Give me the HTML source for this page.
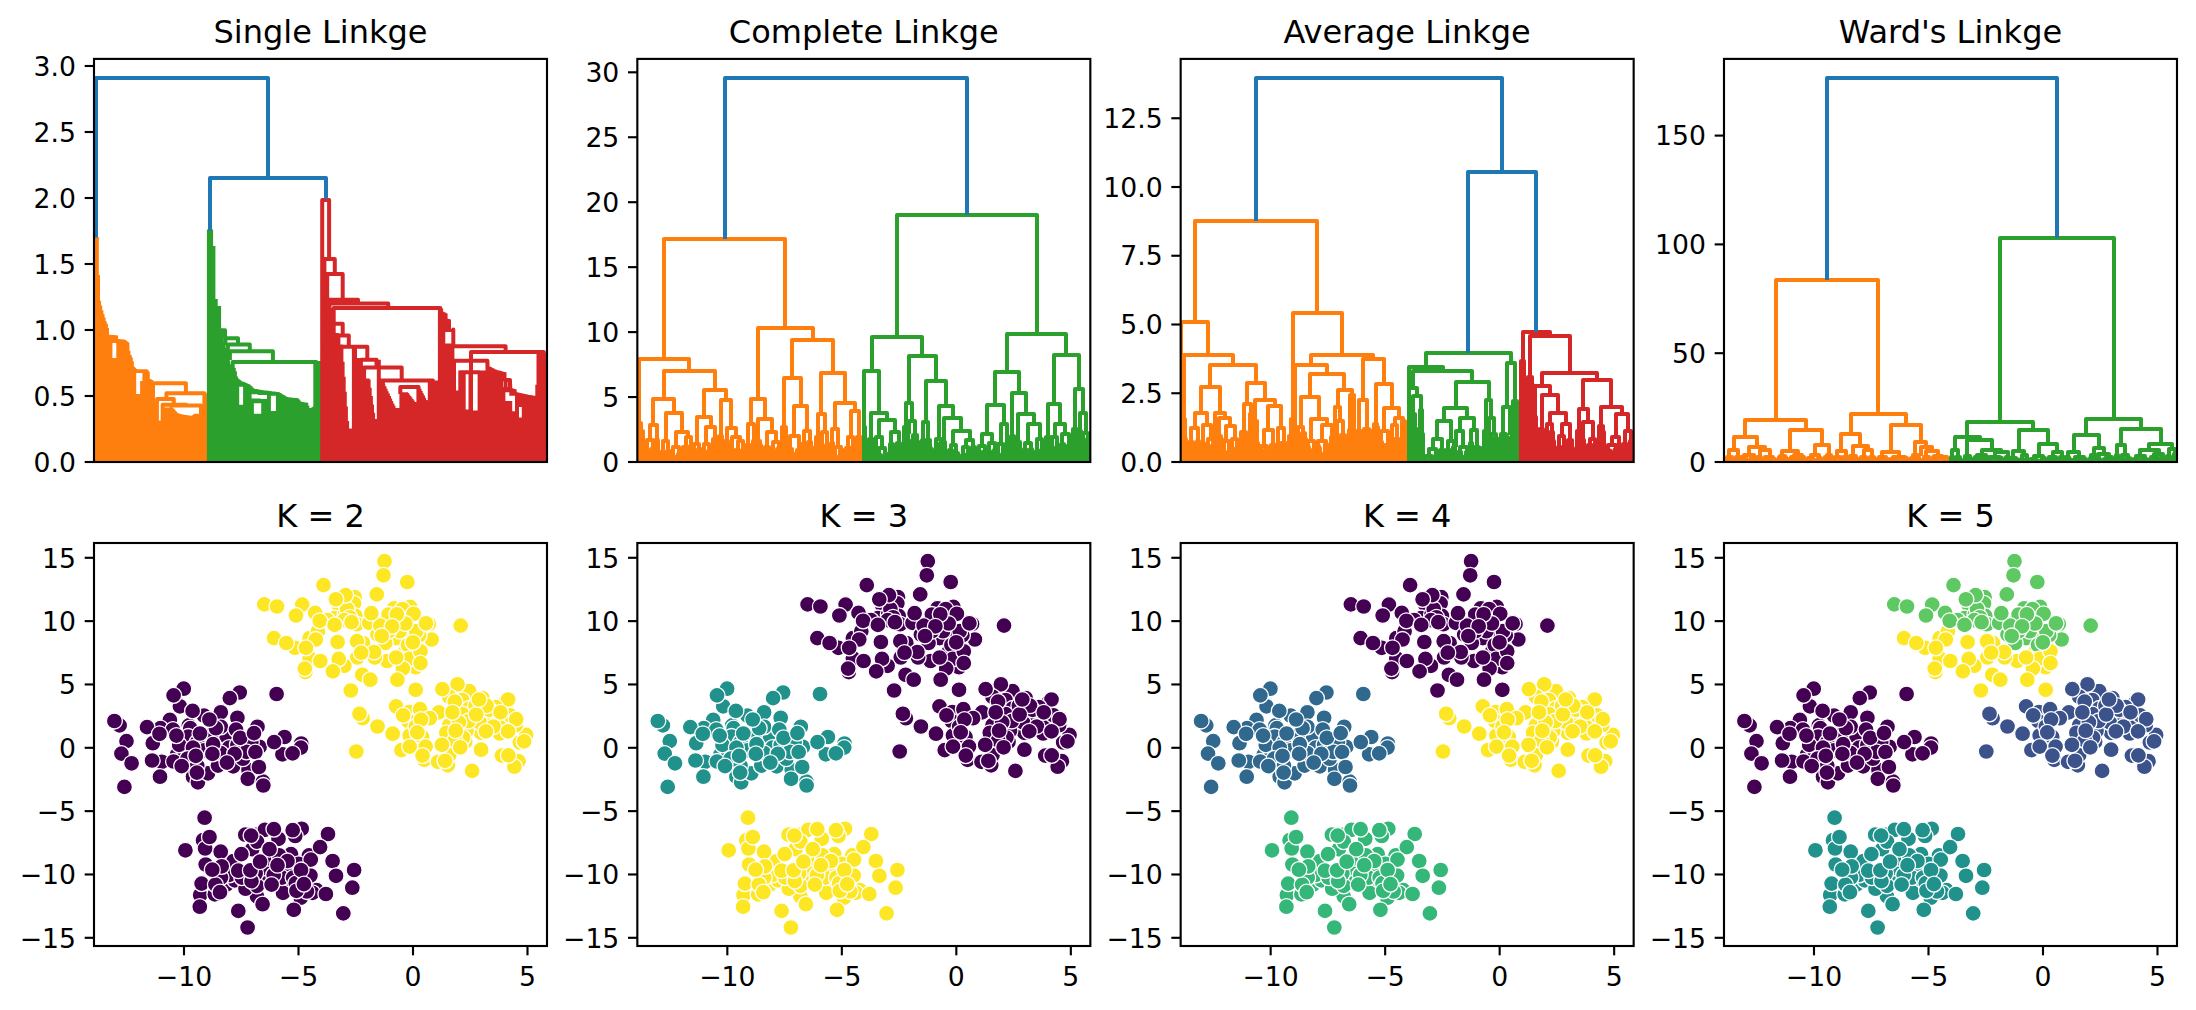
<!DOCTYPE html>
<html><head><meta charset="utf-8"><title>Hierarchical and K-means clustering</title>
<style>html,body{margin:0;padding:0;background:#fff}svg{display:block}</style></head>
<body><svg width="2196" height="1010" viewBox="0 0 2196 1010" font-family="'DejaVu Sans','Liberation Sans',sans-serif" fill="#000"><clipPath id="ct0"><rect x="94" y="58.9" width="453" height="403.1"/></clipPath>
<clipPath id="cb0"><rect x="94" y="543" width="453" height="403"/></clipPath>
<clipPath id="ct1"><rect x="637.33" y="58.9" width="453" height="403.1"/></clipPath>
<clipPath id="cb1"><rect x="637.33" y="543" width="453" height="403"/></clipPath>
<clipPath id="ct2"><rect x="1180.66" y="58.9" width="453" height="403.1"/></clipPath>
<clipPath id="cb2"><rect x="1180.66" y="543" width="453" height="403"/></clipPath>
<clipPath id="ct3"><rect x="1723.99" y="58.9" width="453" height="403.1"/></clipPath>
<clipPath id="cb3"><rect x="1723.99" y="543" width="453" height="403"/></clipPath>
<g clip-path="url(#ct0)" fill="none" stroke-width="4.0" stroke-linejoin="round" stroke-linecap="butt"><path stroke="#ff7f0e" d="M94.6 462.0V237.0M95.7 462.0V237.0M96.8 462.0V237.0M98.0 462.0V275.0M99.1 462.0V300.8M100.2 462.0V305.5M101.4 462.0V310.2M102.5 462.0V313.9M103.6 462.0V317.5M104.8 462.0V321.2M105.9 462.0V323.7M107.0 462.0V327.9M108.2 462.0V334.7M109.3 462.0V334.8M110.4 462.0V334.9M111.6 462.0V358.0M111.6 343.0V335.0M112.7 462.0V358.0M112.7 343.0V335.1M113.8 462.0V358.0M113.8 343.0V335.2M115.0 462.0V358.0M115.0 343.0V335.3M116.1 462.0V358.0M116.1 343.0V335.4M117.2 462.0V358.0M117.2 343.0V339.0M118.3 462.0V339.1M119.5 462.0V339.2M120.6 462.0V339.3M121.7 462.0V339.4M122.9 462.0V339.5M124.0 462.0V340.0M125.1 462.0V340.8M126.3 462.0V341.5M127.4 462.0V342.4M128.5 462.0V350.8M129.7 462.0V354.9M130.8 462.0V357.6M131.9 462.0V361.3M133.1 462.0V366.7M134.2 462.0V367.8M135.3 462.0V394.0M135.3 373.0V368.9M136.5 462.0V394.0M136.5 373.0V369.3M137.6 462.0V394.0M137.6 373.0V369.3M138.7 462.0V394.0M138.7 373.0V369.3M139.9 462.0V394.0M139.9 373.0V369.3M141.0 462.0V394.0M141.0 373.0V369.3M142.1 462.0V381.0M142.1 373.0V369.3M143.3 462.0V381.0M143.3 373.0V369.3M144.4 462.0V369.3M145.5 462.0V369.3M146.7 462.0V370.1M147.8 462.0V371.8M148.9 462.0V379.0M150.1 462.0V379.6M151.2 462.0V380.1M152.3 462.0V402.6M153.5 462.0V402.6M154.6 462.0V402.6M155.7 462.0V402.6M156.9 462.0V402.6M158.0 462.0V420.6M159.1 462.0V420.6M160.3 462.0V420.6M161.4 462.0V420.6M162.5 462.0V420.6M163.6 462.0V420.6M164.8 462.0V407.4M165.9 462.0V407.4M167.0 462.0V407.4M168.2 462.0V407.4M169.3 462.0V407.4M170.4 462.0V407.4M171.6 462.0V408.0M172.7 462.0V409.1M173.8 462.0V410.3M175.0 462.0V411.6M176.1 462.0V412.7M177.2 462.0V413.2M178.4 462.0V413.7M179.5 462.0V414.1M180.6 462.0V414.5M181.8 462.0V414.6M182.9 462.0V414.8M184.0 462.0V415.0M185.2 462.0V415.1M186.3 462.0V415.3M187.4 462.0V415.5M188.6 462.0V415.6M189.7 462.0V415.8M190.8 462.0V415.7M192.0 462.0V415.8M193.1 462.0V415.8M194.2 462.0V415.0M195.4 462.0V413.7M196.5 462.0V413.7M197.6 462.0V413.7M198.8 462.0V413.7M199.9 462.0V413.7M201.0 462.0V413.7M202.2 462.0V413.7M203.3 462.0V413.7M204.4 462.0V393.6M205.6 462.0V393.6M206.7 462.0V393.6M207.8 462.0V393.6M153.0 402.6V383.2H185.9V393.2M166.4 399.1V393.2H204.5V395.0M157.1 402.6V399.1H173.8V404.8M162.7 420.6V404.8H186.2V405.6M171.5 407.4V405.6H201.0V413.7"/><path stroke="#2ca02c" d="M208.9 462.0V229.5M210.0 462.0V229.5M211.1 462.0V229.5M212.3 462.0V246.0M213.4 462.0V246.0M214.5 462.0V299.0M215.7 462.0V299.0M216.8 462.0V306.0M217.9 462.0V306.0M219.1 462.0V306.0M220.2 462.0V328.5M221.3 462.0V328.5M222.5 462.0V342.1M223.6 462.0V344.9M224.7 462.0V348.0M225.9 462.0V352.1M227.0 462.0V356.2M228.1 462.0V360.3M229.3 462.0V364.3M230.4 462.0V365.3M231.5 462.0V366.1M232.6 462.0V366.9M233.8 462.0V367.7M234.9 462.0V371.3M236.0 462.0V376.5M237.2 462.0V378.4M238.3 462.0V404.7M238.3 386.7V379.4M239.4 462.0V404.7M239.4 386.7V380.3M240.6 462.0V404.7M240.6 386.7V381.2M241.7 462.0V404.7M241.7 386.7V381.7M242.8 462.0V404.7M242.8 386.7V382.1M244.0 462.0V404.7M244.0 386.7V382.6M245.1 462.0V383.1M246.2 462.0V383.6M247.4 462.0V384.0M248.5 462.0V384.5M249.6 462.0V385.5M250.8 462.0V398.4M250.8 394.3V386.6M251.9 462.0V398.4M251.9 394.3V387.7M253.0 462.0V413.7M253.0 403.3V398.4M253.0 394.3V388.7M254.2 462.0V413.7M254.2 403.3V398.4M254.2 394.3V388.9M255.3 462.0V413.7M255.3 403.3V398.4M255.3 394.3V389.1M256.4 462.0V413.7M256.4 403.3V398.4M256.4 394.3V389.3M257.6 462.0V413.7M257.6 403.3V398.4M257.6 394.3V389.5M258.7 462.0V413.7M258.7 403.3V398.4M258.7 394.3V389.7M259.8 462.0V413.7M259.8 403.3V399.0M259.8 395.0V389.9M261.0 462.0V413.7M261.0 403.3V399.0M261.0 395.0V390.1M262.1 462.0V413.7M262.1 403.3V399.0M262.1 395.0V390.2M263.2 462.0V399.0M263.2 395.0V390.4M264.4 462.0V399.0M264.4 395.0V390.5M265.5 462.0V399.0M265.5 395.0V390.6M266.6 462.0V399.0M266.6 395.0V390.8M267.8 462.0V399.0M267.8 395.0V390.9M268.9 462.0V391.1M270.0 462.0V410.9M270.0 395.7V391.2M271.2 462.0V410.9M271.2 395.7V391.4M272.3 462.0V410.9M272.3 395.7V391.5M273.4 462.0V410.9M273.4 395.7V391.6M274.6 462.0V410.9M274.6 395.7V391.8M275.7 462.0V410.9M275.7 395.7V391.9M276.8 462.0V410.9M276.8 395.7V392.1M277.9 462.0V392.3M279.1 462.0V393.0M280.2 462.0V393.6M281.3 462.0V394.3M282.5 462.0V395.0M283.6 462.0V395.6M284.7 462.0V396.3M285.9 462.0V397.0M287.0 462.0V397.2M288.1 462.0V397.3M289.3 462.0V397.5M290.4 462.0V397.6M291.5 462.0V397.7M292.7 462.0V397.9M293.8 462.0V398.0M294.9 462.0V398.1M296.1 462.0V398.3M297.2 462.0V398.4M298.3 462.0V399.8M299.5 462.0V401.2M300.6 462.0V402.0M301.7 462.0V402.1M302.9 462.0V402.2M304.0 462.0V402.4M305.1 462.0V402.5M306.3 462.0V402.8M307.4 462.0V405.7M308.5 462.0V407.9M309.7 462.0V407.9M310.8 462.0V408.1M311.9 462.0V408.0M313.1 462.0V407.6M314.2 462.0V406.8M315.3 462.0V361.0M316.5 462.0V361.0M317.6 462.0V361.0M318.7 462.0V361.0M319.9 462.0V361.0M321.0 462.0V361.0M221.0 335.0V330.3H225.0V338.2M225.4 345.0V338.2H238.0V344.4M227.9 352.0V344.4H249.8V351.3M229.9 360.0V351.3H272.9V362.1M232.7 368.0V362.1H316.3V363.0"/><path stroke="#d62728" d="M322.2 462.0V258.9M323.3 462.0V258.9M324.4 462.0V274.0M325.6 462.0V274.0M326.7 462.0V274.0M327.8 462.0V299.7M329.0 462.0V299.7M330.1 462.0V307.9M331.2 462.0V307.9M332.4 462.0V307.9M333.5 462.0V307.9M334.6 462.0V333.0M335.8 462.0V333.0M336.9 462.0V333.0M338.0 462.0V344.6M339.2 462.0V344.6M340.3 462.0V344.6M341.4 462.0V344.6M342.6 462.0V361.7M343.7 462.0V376.8M344.8 462.0V391.7M345.9 462.0V406.4M347.1 462.0V421.1M348.2 462.0V428.6M349.3 462.0V428.6M350.5 462.0V428.6M351.6 462.0V428.6M352.7 462.0V428.6M353.9 462.0V345.1M355.0 462.0V345.1M356.1 462.0V358.1M357.3 462.0V358.1M358.4 462.0V365.7M359.5 462.0V365.7M360.7 462.0V365.7M361.8 462.0V365.7M362.9 462.0V365.7M364.1 462.0V365.7M365.2 462.0V378.4M366.3 462.0V378.4M367.5 462.0V378.4M368.6 462.0V379.4M369.7 462.0V387.7M370.9 462.0V396.0M372.0 462.0V404.4M373.1 462.0V412.7M374.3 462.0V419.1M375.4 462.0V419.1M376.5 462.0V419.1M377.7 462.0V419.1M378.8 462.0V359.8M379.9 462.0V378.4M381.1 462.0V378.4M382.2 462.0V378.4M383.3 462.0V383.9M384.5 462.0V386.3M385.6 462.0V388.7M386.7 462.0V391.2M387.9 462.0V393.6M389.0 462.0V396.1M390.1 462.0V398.5M391.2 462.0V400.9M392.4 462.0V403.4M393.5 462.0V405.8M394.6 462.0V407.9M395.8 462.0V407.9M396.9 462.0V407.9M398.0 462.0V407.9M399.2 462.0V407.9M400.3 462.0V407.9M401.4 462.0V392.3M402.6 462.0V392.3M403.7 462.0V392.3M404.8 462.0V392.3M406.0 462.0V392.3M407.1 462.0V392.9M408.2 462.0V394.5M409.4 462.0V396.0M410.5 462.0V397.5M411.6 462.0V399.0M412.8 462.0V400.5M413.9 462.0V402.0M415.0 462.0V402.2M416.2 462.0V402.4M417.3 462.0V402.5M418.4 462.0V387.1M419.6 462.0V388.7M420.7 462.0V391.0M421.8 462.0V393.3M423.0 462.0V395.5M424.1 462.0V397.8M425.2 462.0V400.1M426.4 462.0V400.3M427.5 462.0V400.6M428.6 462.0V400.9M429.8 462.0V380.5M430.9 462.0V380.5M432.0 462.0V380.5M433.2 462.0V380.5M434.3 462.0V380.5M435.4 462.0V380.5M436.5 462.0V380.5M437.7 462.0V380.5M438.8 462.0V380.5M439.9 462.0V306.5M441.1 462.0V308.6M442.2 462.0V311.7M443.3 462.0V312.3M444.5 462.0V343.5M444.5 332.0V312.8M445.6 462.0V343.5M445.6 332.0V313.6M446.7 462.0V343.5M446.7 332.0V318.7M447.9 462.0V343.5M447.9 332.0V319.1M449.0 462.0V343.5M449.0 332.0V319.4M450.1 462.0V343.5M450.1 332.0V329.1M451.3 462.0V343.5M451.3 332.0V329.3M452.4 462.0V343.5M452.4 332.0V329.6M453.5 462.0V390.5M454.7 462.0V390.5M455.8 462.0V390.5M456.9 462.0V390.5M458.1 462.0V390.5M459.2 462.0V390.5M460.3 462.0V370.6M461.5 462.0V370.6M462.6 462.0V370.6M463.7 462.0V370.6M464.9 462.0V409.6M466.0 462.0V409.6M467.1 462.0V409.6M468.3 462.0V409.6M469.4 462.0V409.6M470.5 462.0V410.5M471.7 462.0V410.5M472.8 462.0V410.5M473.9 462.0V410.5M475.1 462.0V410.5M476.2 462.0V410.5M477.3 462.0V410.5M478.5 462.0V410.5M479.6 462.0V410.5M480.7 462.0V410.5M481.8 462.0V370.6M483.0 462.0V370.6M484.1 462.0V370.6M485.2 462.0V370.6M486.4 462.0V370.6M487.5 462.0V362.5M488.6 462.0V366.6M489.8 462.0V367.1M490.9 462.0V367.7M492.0 462.0V368.3M493.2 462.0V368.8M494.3 462.0V369.4M495.4 462.0V369.8M496.6 462.0V370.2M497.7 462.0V370.5M498.8 462.0V370.8M500.0 462.0V371.1M501.1 462.0V371.4M502.2 462.0V387.0M502.2 381.5V371.7M503.4 462.0V387.0M503.4 381.5V372.0M504.5 462.0V400.9M504.5 392.3V387.0M504.5 381.5V372.3M505.6 462.0V400.9M505.6 392.3V387.0M505.6 381.5V377.9M506.8 462.0V400.9M506.8 392.3V387.0M506.8 381.5V378.8M507.9 462.0V400.9M507.9 392.3V387.0M507.9 381.5V379.3M509.0 462.0V400.9M509.0 392.3V387.0M509.0 381.5V379.8M510.2 462.0V400.9M510.2 392.3V384.2M511.3 462.0V411.3M511.3 395.7V388.2M512.4 462.0V411.3M512.4 395.7V388.7M513.6 462.0V411.3M513.6 395.7V389.1M514.7 462.0V411.3M514.7 395.7V389.6M515.8 462.0V411.3M515.8 395.7V392.3M517.0 462.0V392.5M518.1 462.0V417.4M518.1 407.0V392.7M519.2 462.0V417.4M519.2 407.0V393.0M520.4 462.0V417.4M520.4 407.0V393.2M521.5 462.0V417.4M521.5 407.0V393.5M522.6 462.0V417.4M522.6 407.0V393.7M523.8 462.0V394.0M524.9 462.0V394.2M526.0 462.0V394.4M527.1 462.0V394.7M528.3 462.0V394.9M529.4 462.0V395.1M530.5 462.0V395.3M531.7 462.0V395.5M532.8 462.0V395.7M533.9 462.0V395.7M535.1 462.0V395.7M536.2 462.0V395.7M537.3 462.0V384.8M538.5 462.0V353.3M539.6 462.0V353.3M540.7 462.0V353.3M541.9 462.0V353.3M543.0 462.0V353.3M544.1 462.0V353.3M545.3 462.0V353.3M546.4 462.0V353.3M322.2 462.0V200.0H329.1V258.9M324.4 462.0V258.9H334.8V274.1M327.2 462.0V274.1H342.7V299.7M328.9 462.0V299.7H358.0V303.5M329.5 462.0V303.5H388.2V308.0M333.7 323.8V307.9H440.3V312.5M333.7 333.3V323.8H342.7V335.4M338.4 345.5V335.4H348.8V346.8M341.5 349.8V346.8H367.3V359.8M360.9 366.3V359.8H376.5V367.6M363.9 380.1V367.6H401.7V380.5M382.9 384.5V380.5H432.9V400.9M400.3 394.0V387.1H418.6V394.0M430.3 380.5V380.5H430.3V400.9M450.5 361.1V346.3H505.6V351.9M471.0 428.6V351.9H543.8V355.9M454.0 394.0V360.7H487.4V366.3M460.6 376.7V372.3H470.5V411.3M470.5 411.3V372.3H479.6V411.3M505.6 388.8V380.1H510.0V388.8M453.3 347.0V329.6H453.3V347.0"/><path stroke="#1f77b4" d="M96 237.5V78H268V178M210 230.5V178H326V199"/></g>
<g clip-path="url(#cb0)" stroke="#fff" stroke-width="1.28"><circle cx="119.6" cy="725.4" r="8.0" fill="#440154"/><circle cx="183.7" cy="688.7" r="8.0" fill="#440154"/><circle cx="179.9" cy="706.3" r="8.0" fill="#440154"/><circle cx="239.7" cy="692.5" r="8.0" fill="#440154"/><circle cx="220.8" cy="712.3" r="8.0" fill="#440154"/><circle cx="237.4" cy="717.8" r="8.0" fill="#440154"/><circle cx="169.9" cy="719.9" r="8.0" fill="#440154"/><circle cx="160.5" cy="728.2" r="8.0" fill="#440154"/><circle cx="152.8" cy="743.2" r="8.0" fill="#440154"/><circle cx="257.5" cy="726.8" r="8.0" fill="#440154"/><circle cx="284.5" cy="737.0" r="8.0" fill="#440154"/><circle cx="301.2" cy="743.5" r="8.0" fill="#440154"/><circle cx="282.4" cy="754.3" r="8.0" fill="#440154"/><circle cx="233.2" cy="766.3" r="8.0" fill="#440154"/><circle cx="177.1" cy="754.8" r="8.0" fill="#440154"/><circle cx="161.8" cy="761.8" r="8.0" fill="#440154"/><circle cx="193.0" cy="776.7" r="8.0" fill="#440154"/><circle cx="197.9" cy="782.3" r="8.0" fill="#440154"/><circle cx="208.0" cy="773.3" r="8.0" fill="#440154"/><circle cx="218.0" cy="765.6" r="8.0" fill="#440154"/><circle cx="248.5" cy="769.8" r="8.0" fill="#440154"/><circle cx="247.8" cy="778.8" r="8.0" fill="#440154"/><circle cx="263.0" cy="781.6" r="8.0" fill="#440154"/><circle cx="188.9" cy="725.4" r="8.0" fill="#440154"/><circle cx="190.3" cy="728.2" r="8.0" fill="#440154"/><circle cx="188.2" cy="736.5" r="8.0" fill="#440154"/><circle cx="184.7" cy="751.8" r="8.0" fill="#440154"/><circle cx="197.2" cy="742.1" r="8.0" fill="#440154"/><circle cx="226.3" cy="736.5" r="8.0" fill="#440154"/><circle cx="229.1" cy="747.6" r="8.0" fill="#440154"/><circle cx="259.6" cy="746.9" r="8.0" fill="#440154"/><circle cx="242.9" cy="758.7" r="8.0" fill="#440154"/><circle cx="220.8" cy="726.8" r="8.0" fill="#440154"/><circle cx="204.1" cy="715.7" r="8.0" fill="#440154"/><circle cx="179.2" cy="744.9" r="8.0" fill="#440154"/><circle cx="220.8" cy="753.2" r="8.0" fill="#440154"/><circle cx="251.3" cy="742.1" r="8.0" fill="#440154"/><circle cx="204.1" cy="750.4" r="8.0" fill="#440154"/><circle cx="173.6" cy="761.5" r="8.0" fill="#440154"/><circle cx="193.0" cy="747.6" r="8.0" fill="#440154"/><circle cx="237.4" cy="744.9" r="8.0" fill="#440154"/><circle cx="187.5" cy="758.7" r="8.0" fill="#440154"/><circle cx="211.1" cy="735.2" r="8.0" fill="#440154"/><circle cx="203.0" cy="840.2" r="8.0" fill="#440154"/><circle cx="205.7" cy="864.5" r="8.0" fill="#440154"/><circle cx="200.2" cy="895.0" r="8.0" fill="#440154"/><circle cx="214.8" cy="894.3" r="8.0" fill="#440154"/><circle cx="226.5" cy="884.6" r="8.0" fill="#440154"/><circle cx="234.9" cy="880.4" r="8.0" fill="#440154"/><circle cx="245.3" cy="834.7" r="8.0" fill="#440154"/><circle cx="257.0" cy="834.7" r="8.0" fill="#440154"/><circle cx="264.9" cy="829.8" r="8.0" fill="#440154"/><circle cx="278.5" cy="838.8" r="8.0" fill="#440154"/><circle cx="301.7" cy="828.8" r="8.0" fill="#440154"/><circle cx="295.2" cy="836.0" r="8.0" fill="#440154"/><circle cx="316.6" cy="890.1" r="8.0" fill="#440154"/><circle cx="312.5" cy="892.9" r="8.0" fill="#440154"/><circle cx="257.0" cy="896.3" r="8.0" fill="#440154"/><circle cx="245.5" cy="888.7" r="8.0" fill="#440154"/><circle cx="252.2" cy="849.2" r="8.0" fill="#440154"/><circle cx="291.0" cy="854.1" r="8.0" fill="#440154"/><circle cx="309.0" cy="855.4" r="8.0" fill="#440154"/><circle cx="310.4" cy="875.5" r="8.0" fill="#440154"/><circle cx="300.7" cy="897.7" r="8.0" fill="#440154"/><circle cx="289.6" cy="883.9" r="8.0" fill="#440154"/><circle cx="283.0" cy="892.9" r="8.0" fill="#440154"/><circle cx="264.0" cy="877.6" r="8.0" fill="#440154"/><circle cx="287.5" cy="872.1" r="8.0" fill="#440154"/><circle cx="264.0" cy="867.9" r="8.0" fill="#440154"/><circle cx="298.6" cy="863.8" r="8.0" fill="#440154"/><circle cx="257.0" cy="841.6" r="8.0" fill="#440154"/><circle cx="282.0" cy="877.6" r="8.0" fill="#440154"/><circle cx="273.7" cy="874.9" r="8.0" fill="#440154"/><circle cx="293.1" cy="877.6" r="8.0" fill="#440154"/><circle cx="229.3" cy="874.9" r="8.0" fill="#440154"/><circle cx="221.0" cy="877.6" r="8.0" fill="#440154"/><circle cx="257.0" cy="885.9" r="8.0" fill="#440154"/><circle cx="306.9" cy="891.5" r="8.0" fill="#440154"/><circle cx="268.1" cy="858.2" r="8.0" fill="#440154"/><circle cx="279.2" cy="855.4" r="8.0" fill="#440154"/><circle cx="295.8" cy="883.2" r="8.0" fill="#440154"/><circle cx="241.8" cy="877.6" r="8.0" fill="#440154"/><circle cx="233.5" cy="861.0" r="8.0" fill="#440154"/><circle cx="255.6" cy="873.5" r="8.0" fill="#440154"/><circle cx="302.3" cy="604.6" r="8.0" fill="#fde725"/><circle cx="354.7" cy="597.2" r="8.0" fill="#fde725"/><circle cx="354.0" cy="603.4" r="8.0" fill="#fde725"/><circle cx="338.7" cy="604.8" r="8.0" fill="#fde725"/><circle cx="315.2" cy="612.9" r="8.0" fill="#fde725"/><circle cx="334.6" cy="618.0" r="8.0" fill="#fde725"/><circle cx="345.0" cy="614.5" r="8.0" fill="#fde725"/><circle cx="355.4" cy="615.9" r="8.0" fill="#fde725"/><circle cx="356.7" cy="624.2" r="8.0" fill="#fde725"/><circle cx="369.2" cy="622.9" r="8.0" fill="#fde725"/><circle cx="394.2" cy="608.3" r="8.0" fill="#fde725"/><circle cx="410.1" cy="606.9" r="8.0" fill="#fde725"/><circle cx="385.8" cy="621.5" r="8.0" fill="#fde725"/><circle cx="428.8" cy="624.0" r="8.0" fill="#fde725"/><circle cx="431.6" cy="639.5" r="8.0" fill="#fde725"/><circle cx="419.1" cy="635.3" r="8.0" fill="#fde725"/><circle cx="412.2" cy="637.4" r="8.0" fill="#fde725"/><circle cx="396.2" cy="638.1" r="8.0" fill="#fde725"/><circle cx="377.5" cy="634.6" r="8.0" fill="#fde725"/><circle cx="385.2" cy="643.0" r="8.0" fill="#fde725"/><circle cx="405.3" cy="652.0" r="8.0" fill="#fde725"/><circle cx="415.7" cy="667.2" r="8.0" fill="#fde725"/><circle cx="387.2" cy="661.0" r="8.0" fill="#fde725"/><circle cx="374.8" cy="657.5" r="8.0" fill="#fde725"/><circle cx="357.4" cy="657.5" r="8.0" fill="#fde725"/><circle cx="363.0" cy="643.0" r="8.0" fill="#fde725"/><circle cx="309.6" cy="638.1" r="8.0" fill="#fde725"/><circle cx="317.9" cy="631.2" r="8.0" fill="#fde725"/><circle cx="295.1" cy="647.8" r="8.0" fill="#fde725"/><circle cx="309.6" cy="658.2" r="8.0" fill="#fde725"/><circle cx="305.4" cy="672.1" r="8.0" fill="#fde725"/><circle cx="344.3" cy="665.8" r="8.0" fill="#fde725"/><circle cx="362.3" cy="674.8" r="8.0" fill="#fde725"/><circle cx="347.0" cy="609.0" r="8.0" fill="#fde725"/><circle cx="349.8" cy="617.3" r="8.0" fill="#fde725"/><circle cx="388.6" cy="614.5" r="8.0" fill="#fde725"/><circle cx="402.5" cy="617.3" r="8.0" fill="#fde725"/><circle cx="399.7" cy="631.2" r="8.0" fill="#fde725"/><circle cx="408.0" cy="645.0" r="8.0" fill="#fde725"/><circle cx="388.6" cy="631.2" r="8.0" fill="#fde725"/><circle cx="344.3" cy="620.1" r="8.0" fill="#fde725"/><circle cx="409.4" cy="658.9" r="8.0" fill="#fde725"/><circle cx="327.6" cy="620.1" r="8.0" fill="#fde725"/><circle cx="416.3" cy="631.2" r="8.0" fill="#fde725"/><circle cx="402.5" cy="609.0" r="8.0" fill="#fde725"/><circle cx="380.3" cy="625.6" r="8.0" fill="#fde725"/><circle cx="362.6" cy="718.2" r="8.0" fill="#fde725"/><circle cx="396.1" cy="706.4" r="8.0" fill="#fde725"/><circle cx="409.0" cy="712.0" r="8.0" fill="#fde725"/><circle cx="420.1" cy="709.2" r="8.0" fill="#fde725"/><circle cx="408.3" cy="721.0" r="8.0" fill="#fde725"/><circle cx="409.7" cy="735.5" r="8.0" fill="#fde725"/><circle cx="422.2" cy="736.9" r="8.0" fill="#fde725"/><circle cx="401.4" cy="750.1" r="8.0" fill="#fde725"/><circle cx="425.6" cy="746.6" r="8.0" fill="#fde725"/><circle cx="424.3" cy="759.8" r="8.0" fill="#fde725"/><circle cx="438.1" cy="761.9" r="8.0" fill="#fde725"/><circle cx="447.8" cy="765.4" r="8.0" fill="#fde725"/><circle cx="449.2" cy="755.0" r="8.0" fill="#fde725"/><circle cx="465.2" cy="741.8" r="8.0" fill="#fde725"/><circle cx="501.9" cy="755.6" r="8.0" fill="#fde725"/><circle cx="518.5" cy="761.2" r="8.0" fill="#fde725"/><circle cx="514.4" cy="766.7" r="8.0" fill="#fde725"/><circle cx="519.9" cy="742.5" r="8.0" fill="#fde725"/><circle cx="526.1" cy="734.9" r="8.0" fill="#fde725"/><circle cx="499.8" cy="733.5" r="8.0" fill="#fde725"/><circle cx="481.1" cy="732.8" r="8.0" fill="#fde725"/><circle cx="505.4" cy="702.3" r="8.0" fill="#fde725"/><circle cx="508.1" cy="699.5" r="8.0" fill="#fde725"/><circle cx="495.7" cy="707.1" r="8.0" fill="#fde725"/><circle cx="482.5" cy="698.1" r="8.0" fill="#fde725"/><circle cx="469.3" cy="691.2" r="8.0" fill="#fde725"/><circle cx="457.5" cy="684.3" r="8.0" fill="#fde725"/><circle cx="449.2" cy="696.7" r="8.0" fill="#fde725"/><circle cx="462.4" cy="700.2" r="8.0" fill="#fde725"/><circle cx="469.3" cy="708.5" r="8.0" fill="#fde725"/><circle cx="438.8" cy="712.4" r="8.0" fill="#fde725"/><circle cx="462.4" cy="714.1" r="8.0" fill="#fde725"/><circle cx="449.2" cy="725.2" r="8.0" fill="#fde725"/><circle cx="466.5" cy="730.7" r="8.0" fill="#fde725"/><circle cx="446.4" cy="732.8" r="8.0" fill="#fde725"/><circle cx="490.8" cy="718.2" r="8.0" fill="#fde725"/><circle cx="501.9" cy="723.8" r="8.0" fill="#fde725"/><circle cx="429.8" cy="718.2" r="8.0" fill="#fde725"/><circle cx="479.7" cy="722.4" r="8.0" fill="#fde725"/><circle cx="463.1" cy="737.6" r="8.0" fill="#fde725"/><circle cx="515.7" cy="725.2" r="8.0" fill="#fde725"/><circle cx="454.8" cy="701.6" r="8.0" fill="#fde725"/><circle cx="468.6" cy="721.0" r="8.0" fill="#fde725"/><circle cx="489.4" cy="709.9" r="8.0" fill="#fde725"/><circle cx="454.8" cy="740.4" r="8.0" fill="#fde725"/><circle cx="493.6" cy="726.5" r="8.0" fill="#fde725"/><circle cx="510.2" cy="715.4" r="8.0" fill="#fde725"/><circle cx="475.6" cy="705.7" r="8.0" fill="#fde725"/><circle cx="415.9" cy="726.5" r="8.0" fill="#fde725"/><circle cx="486.6" cy="705.7" r="8.0" fill="#fde725"/><circle cx="458.9" cy="722.4" r="8.0" fill="#fde725"/><circle cx="126.5" cy="741.1" r="8.0" fill="#440154"/><circle cx="121.4" cy="753.6" r="8.0" fill="#440154"/><circle cx="131.6" cy="763.3" r="8.0" fill="#440154"/><circle cx="124.4" cy="786.9" r="8.0" fill="#440154"/><circle cx="192.6" cy="710.9" r="8.0" fill="#440154"/><circle cx="276.6" cy="694.0" r="8.0" fill="#440154"/><circle cx="147.0" cy="727.1" r="8.0" fill="#440154"/><circle cx="172.9" cy="729.6" r="8.0" fill="#440154"/><circle cx="215.9" cy="728.2" r="8.0" fill="#440154"/><circle cx="236.0" cy="729.6" r="8.0" fill="#440154"/><circle cx="300.9" cy="747.6" r="8.0" fill="#440154"/><circle cx="246.4" cy="751.8" r="8.0" fill="#440154"/><circle cx="234.6" cy="753.9" r="8.0" fill="#440154"/><circle cx="213.1" cy="744.2" r="8.0" fill="#440154"/><circle cx="160.0" cy="776.7" r="8.0" fill="#440154"/><circle cx="197.2" cy="765.6" r="8.0" fill="#440154"/><circle cx="196.9" cy="772.6" r="8.0" fill="#440154"/><circle cx="204.6" cy="817.7" r="8.0" fill="#440154"/><circle cx="185.4" cy="850.3" r="8.0" fill="#440154"/><circle cx="205.1" cy="848.5" r="8.0" fill="#440154"/><circle cx="220.7" cy="851.7" r="8.0" fill="#440154"/><circle cx="221.7" cy="866.3" r="8.0" fill="#440154"/><circle cx="201.6" cy="883.6" r="8.0" fill="#440154"/><circle cx="199.8" cy="906.7" r="8.0" fill="#440154"/><circle cx="215.4" cy="884.6" r="8.0" fill="#440154"/><circle cx="238.3" cy="870.7" r="8.0" fill="#440154"/><circle cx="238.3" cy="910.9" r="8.0" fill="#440154"/><circle cx="247.6" cy="927.5" r="8.0" fill="#440154"/><circle cx="328.0" cy="834.0" r="8.0" fill="#440154"/><circle cx="320.1" cy="847.1" r="8.0" fill="#440154"/><circle cx="332.6" cy="861.0" r="8.0" fill="#440154"/><circle cx="336.0" cy="875.8" r="8.0" fill="#440154"/><circle cx="354.1" cy="870.0" r="8.0" fill="#440154"/><circle cx="352.3" cy="887.7" r="8.0" fill="#440154"/><circle cx="343.3" cy="913.4" r="8.0" fill="#440154"/><circle cx="293.8" cy="909.8" r="8.0" fill="#440154"/><circle cx="251.5" cy="881.1" r="8.0" fill="#440154"/><circle cx="269.5" cy="849.2" r="8.0" fill="#440154"/><circle cx="287.5" cy="861.0" r="8.0" fill="#440154"/><circle cx="310.8" cy="859.6" r="8.0" fill="#440154"/><circle cx="296.5" cy="890.8" r="8.0" fill="#440154"/><circle cx="384.5" cy="561.2" r="8.0" fill="#fde725"/><circle cx="383.5" cy="575.3" r="8.0" fill="#fde725"/><circle cx="407.3" cy="582.0" r="8.0" fill="#fde725"/><circle cx="323.5" cy="585.1" r="8.0" fill="#fde725"/><circle cx="376.8" cy="594.4" r="8.0" fill="#fde725"/><circle cx="264.3" cy="604.4" r="8.0" fill="#fde725"/><circle cx="277.0" cy="606.5" r="8.0" fill="#fde725"/><circle cx="345.6" cy="595.1" r="8.0" fill="#fde725"/><circle cx="413.6" cy="613.8" r="8.0" fill="#fde725"/><circle cx="405.3" cy="623.5" r="8.0" fill="#fde725"/><circle cx="460.7" cy="625.6" r="8.0" fill="#fde725"/><circle cx="420.5" cy="651.3" r="8.0" fill="#fde725"/><circle cx="420.5" cy="663.1" r="8.0" fill="#fde725"/><circle cx="402.9" cy="668.6" r="8.0" fill="#fde725"/><circle cx="397.4" cy="679.7" r="8.0" fill="#fde725"/><circle cx="374.1" cy="652.0" r="8.0" fill="#fde725"/><circle cx="357.0" cy="641.2" r="8.0" fill="#fde725"/><circle cx="337.6" cy="642.0" r="8.0" fill="#fde725"/><circle cx="315.8" cy="639.5" r="8.0" fill="#fde725"/><circle cx="274.0" cy="638.1" r="8.0" fill="#fde725"/><circle cx="286.3" cy="643.0" r="8.0" fill="#fde725"/><circle cx="338.7" cy="658.9" r="8.0" fill="#fde725"/><circle cx="332.9" cy="671.4" r="8.0" fill="#fde725"/><circle cx="350.8" cy="690.5" r="8.0" fill="#fde725"/><circle cx="415.7" cy="689.8" r="8.0" fill="#fde725"/><circle cx="377.5" cy="726.5" r="8.0" fill="#fde725"/><circle cx="392.7" cy="733.7" r="8.0" fill="#fde725"/><circle cx="356.3" cy="751.5" r="8.0" fill="#fde725"/><circle cx="481.1" cy="749.7" r="8.0" fill="#fde725"/><circle cx="472.1" cy="770.9" r="8.0" fill="#fde725"/><circle cx="516.2" cy="719.2" r="8.0" fill="#fde725"/><circle cx="485.9" cy="731.4" r="8.0" fill="#fde725"/><circle cx="114.4" cy="721.0" r="8.0" fill="#440154"/><circle cx="173.6" cy="695.4" r="8.0" fill="#440154"/><circle cx="229.8" cy="698.1" r="8.0" fill="#440154"/><circle cx="209.4" cy="719.5" r="8.0" fill="#440154"/><circle cx="159.5" cy="733.8" r="8.0" fill="#440154"/><circle cx="176.4" cy="735.6" r="8.0" fill="#440154"/><circle cx="200.0" cy="733.5" r="8.0" fill="#440154"/><circle cx="240.2" cy="737.9" r="8.0" fill="#440154"/><circle cx="254.0" cy="733.1" r="8.0" fill="#440154"/><circle cx="274.1" cy="742.1" r="8.0" fill="#440154"/><circle cx="292.6" cy="753.4" r="8.0" fill="#440154"/><circle cx="255.4" cy="752.1" r="8.0" fill="#440154"/><circle cx="227.0" cy="762.6" r="8.0" fill="#440154"/><circle cx="212.4" cy="753.9" r="8.0" fill="#440154"/><circle cx="195.8" cy="755.9" r="8.0" fill="#440154"/><circle cx="181.7" cy="766.1" r="8.0" fill="#440154"/><circle cx="152.1" cy="760.5" r="8.0" fill="#440154"/><circle cx="258.9" cy="767.0" r="8.0" fill="#440154"/><circle cx="263.3" cy="785.5" r="8.0" fill="#440154"/><circle cx="209.5" cy="837.0" r="8.0" fill="#440154"/><circle cx="212.3" cy="869.7" r="8.0" fill="#440154"/><circle cx="220.0" cy="892.2" r="8.0" fill="#440154"/><circle cx="251.1" cy="835.6" r="8.0" fill="#440154"/><circle cx="273.9" cy="829.1" r="8.0" fill="#440154"/><circle cx="292.7" cy="830.2" r="8.0" fill="#440154"/><circle cx="325.9" cy="894.0" r="8.0" fill="#440154"/><circle cx="262.6" cy="904.2" r="8.0" fill="#440154"/><circle cx="250.4" cy="870.4" r="8.0" fill="#440154"/><circle cx="260.1" cy="861.7" r="8.0" fill="#440154"/><circle cx="241.4" cy="854.1" r="8.0" fill="#440154"/><circle cx="277.5" cy="865.2" r="8.0" fill="#440154"/><circle cx="301.0" cy="870.0" r="8.0" fill="#440154"/><circle cx="303.9" cy="884.1" r="8.0" fill="#440154"/><circle cx="271.6" cy="884.6" r="8.0" fill="#440154"/><circle cx="296.0" cy="615.5" r="8.0" fill="#fde725"/><circle cx="335.9" cy="599.3" r="8.0" fill="#fde725"/><circle cx="319.7" cy="620.8" r="8.0" fill="#fde725"/><circle cx="334.6" cy="624.9" r="8.0" fill="#fde725"/><circle cx="351.6" cy="622.2" r="8.0" fill="#fde725"/><circle cx="371.3" cy="613.2" r="8.0" fill="#fde725"/><circle cx="396.9" cy="614.3" r="8.0" fill="#fde725"/><circle cx="392.1" cy="626.3" r="8.0" fill="#fde725"/><circle cx="426.0" cy="623.3" r="8.0" fill="#fde725"/><circle cx="412.9" cy="642.3" r="8.0" fill="#fde725"/><circle cx="381.7" cy="636.0" r="8.0" fill="#fde725"/><circle cx="396.2" cy="657.5" r="8.0" fill="#fde725"/><circle cx="361.2" cy="652.7" r="8.0" fill="#fde725"/><circle cx="305.9" cy="647.8" r="8.0" fill="#fde725"/><circle cx="320.3" cy="661.0" r="8.0" fill="#fde725"/><circle cx="304.8" cy="668.6" r="8.0" fill="#fde725"/><circle cx="370.3" cy="679.7" r="8.0" fill="#fde725"/><circle cx="359.5" cy="713.8" r="8.0" fill="#fde725"/><circle cx="403.2" cy="715.4" r="8.0" fill="#fde725"/><circle cx="421.1" cy="719.6" r="8.0" fill="#fde725"/><circle cx="417.3" cy="732.4" r="8.0" fill="#fde725"/><circle cx="409.7" cy="746.6" r="8.0" fill="#fde725"/><circle cx="422.5" cy="755.6" r="8.0" fill="#fde725"/><circle cx="445.1" cy="760.8" r="8.0" fill="#fde725"/><circle cx="441.9" cy="744.8" r="8.0" fill="#fde725"/><circle cx="460.3" cy="747.3" r="8.0" fill="#fde725"/><circle cx="508.4" cy="755.4" r="8.0" fill="#fde725"/><circle cx="524.1" cy="741.4" r="8.0" fill="#fde725"/><circle cx="508.1" cy="731.4" r="8.0" fill="#fde725"/><circle cx="500.5" cy="712.3" r="8.0" fill="#fde725"/><circle cx="476.2" cy="714.5" r="8.0" fill="#fde725"/><circle cx="479.0" cy="699.5" r="8.0" fill="#fde725"/><circle cx="442.3" cy="689.1" r="8.0" fill="#fde725"/><circle cx="452.4" cy="712.3" r="8.0" fill="#fde725"/><circle cx="455.7" cy="730.7" r="8.0" fill="#fde725"/></g>
<rect x="94" y="58.9" width="453" height="403.1" fill="none" stroke="#000" stroke-width="2.13" stroke-linejoin="miter"/>
<rect x="94" y="543" width="453" height="403" fill="none" stroke="#000" stroke-width="2.13" stroke-linejoin="miter"/>
<line x1="84.67" y1="462" x2="94" y2="462" stroke="#000" stroke-width="2.13"/><text x="76" y="471.72" text-anchor="end" font-size="26.67">0.0</text>
<line x1="84.67" y1="396" x2="94" y2="396" stroke="#000" stroke-width="2.13"/><text x="76" y="405.72" text-anchor="end" font-size="26.67">0.5</text>
<line x1="84.67" y1="330" x2="94" y2="330" stroke="#000" stroke-width="2.13"/><text x="76" y="339.72" text-anchor="end" font-size="26.67">1.0</text>
<line x1="84.67" y1="264" x2="94" y2="264" stroke="#000" stroke-width="2.13"/><text x="76" y="273.72" text-anchor="end" font-size="26.67">1.5</text>
<line x1="84.67" y1="198" x2="94" y2="198" stroke="#000" stroke-width="2.13"/><text x="76" y="207.72" text-anchor="end" font-size="26.67">2.0</text>
<line x1="84.67" y1="132" x2="94" y2="132" stroke="#000" stroke-width="2.13"/><text x="76" y="141.72" text-anchor="end" font-size="26.67">2.5</text>
<line x1="84.67" y1="66" x2="94" y2="66" stroke="#000" stroke-width="2.13"/><text x="76" y="75.72" text-anchor="end" font-size="26.67">3.0</text>
<line x1="84.67" y1="937.8" x2="94" y2="937.8" stroke="#000" stroke-width="2.13"/><text x="76" y="947.52" text-anchor="end" font-size="26.67">−15</text>
<line x1="84.67" y1="874.47" x2="94" y2="874.47" stroke="#000" stroke-width="2.13"/><text x="76" y="884.19" text-anchor="end" font-size="26.67">−10</text>
<line x1="84.67" y1="811.13" x2="94" y2="811.13" stroke="#000" stroke-width="2.13"/><text x="76" y="820.86" text-anchor="end" font-size="26.67">−5</text>
<line x1="84.67" y1="747.8" x2="94" y2="747.8" stroke="#000" stroke-width="2.13"/><text x="76" y="757.52" text-anchor="end" font-size="26.67">0</text>
<line x1="84.67" y1="684.46" x2="94" y2="684.46" stroke="#000" stroke-width="2.13"/><text x="76" y="694.18" text-anchor="end" font-size="26.67">5</text>
<line x1="84.67" y1="621.13" x2="94" y2="621.13" stroke="#000" stroke-width="2.13"/><text x="76" y="630.85" text-anchor="end" font-size="26.67">10</text>
<line x1="84.67" y1="557.79" x2="94" y2="557.79" stroke="#000" stroke-width="2.13"/><text x="76" y="567.51" text-anchor="end" font-size="26.67">15</text>
<line x1="184" y1="946" x2="184" y2="955.33" stroke="#000" stroke-width="2.13"/><text x="184" y="985.67" text-anchor="middle" font-size="26.67">−10</text>
<line x1="298.5" y1="946" x2="298.5" y2="955.33" stroke="#000" stroke-width="2.13"/><text x="298.5" y="985.67" text-anchor="middle" font-size="26.67">−5</text>
<line x1="413" y1="946" x2="413" y2="955.33" stroke="#000" stroke-width="2.13"/><text x="413" y="985.67" text-anchor="middle" font-size="26.67">0</text>
<line x1="527.5" y1="946" x2="527.5" y2="955.33" stroke="#000" stroke-width="2.13"/><text x="527.5" y="985.67" text-anchor="middle" font-size="26.67">5</text>
<text x="320.5" y="42.9" text-anchor="middle" font-size="32.0">Single Linkge</text>
<text x="320.5" y="527" text-anchor="middle" font-size="32.0">K = 2</text>
<g clip-path="url(#ct1)" fill="none" stroke-width="4.0" stroke-linejoin="round" stroke-linecap="butt"><path stroke="#ff7f0e" d="M664 359V239H785V328M639 423V359H689V371M640 462V455H641V462M639 462V449H640V455M642 462V445H643V462M640 449V431H643V445M638 462V423H641V431M664 399V371H715V390M653 425V399H674V413M650 440V425H657V440M645 462V457H646V462M650 462V461H651V462M648 462V458H650V461M647 462V452H649V458M645 457V449H648V452M653 462V458H654V462M652 462V448H653V458M647 449V440H653V448M655 462V458H656V462M658 462V458H659V462M656 458V440H658V458M666 441V413H682V432M663 452V441H668V451M661 462V460H662V462M660 462V458H662V460M664 462V461H665V462M663 462V457H665V461M661 458V452H664V457M666 462V460H668V462M669 462V453H670V462M667 460V451H670V453M676 447V432H688V437M672 462V460H674V462M675 462V460H676V462M673 460V457H675V460M671 462V456H674V457M677 462V460H678V462M679 462V457H680V462M678 460V454H680V457M673 456V447H679V454M686 447V437H691V446M682 462V461H683V462M685 462V460H686V462M684 462V458H685V460M682 461V455H685V458M687 462V450H689V462M683 455V447H688V450M691 462V452H692V462M690 462V446H692V452M704 417V390H726V400M697 444V417H711V427M696 462V459H697V462M694 462V453H696V459M693 462V452H695V453M698 462V458H699V462M700 462V454H701V462M698 458V449H701V454M694 452V444H699V449M706 444V427H715V439M703 462V460H705V462M706 462V459H707V462M704 460V455H706V459M702 462V452H705V455M709 462V457H711V462M708 462V451H710V457M704 452V444H709V451M714 462V459H715V462M713 462V456H714V459M712 462V455H714V456M716 462V450H717V462M713 455V439H717V450M721 436V400H731V428M719 462V455H721V462M718 462V454H720V455M723 462V460H724V462M722 462V448H723V460M719 454V436H722V448M727 441V428H736V437M725 462V456H726V462M728 462V456H729V462M727 462V444H729V456M725 456V441H728V444M732 450V437H740V441M731 462V460H732V462M730 462V457H731V460M733 462V456H734V462M731 457V450H734V456M738 450V441H743V451M737 462V459H738V462M735 462V455H737V459M739 462V451H740V462M736 455V450H739V451M741 462V458H742V462M743 462V452H745V462M742 458V451H744V452M758 399V328H813V340M751 424V399H765V419M746 462V456H747V462M748 462V461H749V462M751 462V459H752V462M750 462V458H752V459M748 461V450H751V458M746 456V445H750V450M754 462V454H755V462M753 462V441H755V454M748 445V424H754V441M758 441V419H772V432M756 462V452H757V462M758 462V454H759V462M761 462V452H762V462M759 454V445H761V452M757 452V441H760V445M767 447V432H776V442M763 462V459H764V462M766 462V461H768V462M765 462V457H767V461M764 459V453H766V457M770 462V458H771V462M769 462V452H770V458M765 453V447H769V452M773 449V442H779V448M772 462V459H773V462M775 462V459H776V462M774 462V457H775V459M772 459V449H774V457M777 462V457H778V462M779 462V456H780V462M778 457V448H780V456M792 378V340H833V373M784 427V378H801V406M782 462V454H784V462M781 462V450H783V454M786 462V456H787V462M785 462V447H786V456M782 450V427H786V447M794 436V406H807V431M790 449V436H799V450M788 462V455H789V462M790 462V459H791V462M792 462V457H794V462M791 459V453H793V457M789 455V449H792V453M795 462V461H796V462M797 462V460H798V462M795 461V458H798V460M801 462V459H802V462M799 462V455H801V459M797 458V450H800V455M804 443V431H810V442M804 462V456H805V462M803 462V443H804V456M806 462V460H807V462M808 462V458H809V462M806 460V456H809V458M813 462V460H814V462M812 462V458H813V460M810 462V454H812V458M808 456V442H811V454M821 414V373H845V403M818 437V414H825V432M817 462V458H818V462M816 462V452H818V458M815 462V447H817V452M819 462V442H820V462M816 447V437H820V442M824 462V461H825V462M823 462V457H825V461M822 462V455H824V457M821 462V452H823V455M828 462V455H829V462M826 462V445H828V455M822 452V432H827V445M835 429V403H855V411M832 443V429H838V447M830 462V454H831V462M832 462V453H833V462M831 454V443H833V453M837 462V460H838V462M836 462V459H837V460M834 462V456H836V459M840 462V461H841V462M839 462V457H841V461M842 462V455H844V462M840 457V450H843V455M835 456V447H841V450M851 437V411H859V437M845 462V461H846V462M847 462V459H848V462M845 461V456H848V459M849 462V456H850V462M846 456V448H850V456M851 462V458H853V462M854 462V456H855V462M852 458V447H854V456M848 448V437H853V447M857 462V457H858V462M856 462V453H857V457M860 462V459H861V462M859 462V457H861V459M862 462V453H863V462M860 457V447H863V453M857 453V437H861V447"/><path stroke="#2ca02c" d="M897 337V215H1037V334M872 371V337H922V356M864 427V371H879V413M865 462V445H866V462M864 462V427H865V445M871 439V413H887V420M867 462V457H869V462M870 462V456H871V462M868 457V450H871V456M873 462V455H875V462M872 462V449H874V455M869 450V439H873V449M879 437V420H895V432M876 445V437H882V448M875 462V445H876V462M879 462V461H880V462M882 462V462H883V462M881 462V459H883V462M879 461V457H882V459M878 462V455H881V457M886 462V459H887V462M885 462V454H886V459M879 455V448H885V454M891 444V432H899V443M888 462V459H889V462M890 462V458H891V462M889 459V453H891V458M894 462V455H895V462M892 462V451H894V455M890 453V444H893V451M897 462V461H898V462M896 462V453H898V461M900 462V455H902V462M899 462V453H901V455M897 453V443H900V453M909 403V356H936V381M906 427V403H912V421M903 462V462H904V462M905 462V451H906V462M903 462V447H906V451M907 462V440H909V462M904 447V427H908V440M909 434V421H915V435M911 462V458H912V462M913 462V458H914V462M911 458V445H914V458M915 462V456H917V462M919 462V454H920V462M918 462V449H920V454M916 456V442H919V449M913 445V435H917V442M926 422V381H946V406M923 440V422H928V440M923 462V453H924V462M922 462V440H924V453M927 462V460H928V462M926 462V458H928V460M925 462V450H927V458M932 462V462H933V462M931 462V457H932V462M930 462V448H931V457M926 450V440H930V448M939 439V406H953V418M935 462V461H936V462M934 462V457H936V461M938 462V460H939V462M937 462V455H939V460M935 457V449H938V455M940 462V443H942V462M936 449V439H941V443M944 442V418H961V431M943 462V456H944V462M946 462V459H947V462M945 462V452H946V459M943 456V442H945V452M953 445V431H970V440M951 450V445H956V453M949 462V460H950V462M948 462V457H950V460M951 462V457H952V462M949 457V450H952V457M954 462V460H956V462M953 462V458H955V460M958 462V460H959V462M957 462V456H959V460M954 458V453H958V456M966 447V440H973V447M962 462V462H963V462M961 462V459H962V462M964 462V457H965V462M962 459V455H965V457M967 462V459H968V462M969 462V459H970V462M967 459V454H969V459M963 455V447H968V454M971 462V456H972V462M975 462V455H976V462M974 462V449H975V455M972 456V447H975V449M1007 372V334H1066V355M995 405V372H1019V393M987 434V405H1004V424M982 446V434H992V443M977 462V459H978V462M982 462V461H983V462M981 462V458H982V461M979 462V454H982V458M978 459V452H981V454M986 462V461H987V462M985 462V457H986V461M984 462V451H986V457M979 452V446H985V451M992 462V460H993V462M990 462V460H992V460M989 462V456H991V460M988 462V451H990V456M995 462V458H996V462M994 462V450H995V458M989 451V443H995V450M1001 444V424H1007V444M1000 462V461H1001V462M998 462V460H1000V461M997 462V457H999V460M1003 462V460H1004V462M1002 462V454H1004V460M998 457V444H1003V454M1005 462V457H1007V462M1008 462V453H1009V462M1006 457V444H1008V453M1012 436V393H1026V414M1011 462V459H1012V462M1010 462V454H1011V459M1013 462V443H1014V462M1011 454V436H1014V443M1018 442V414H1034V424M1017 462V457H1018V462M1016 462V457H1018V457M1015 462V449H1017V457M1020 462V459H1021V462M1019 462V449H1021V459M1016 449V442H1020V449M1028 443V424H1040V439M1025 450V443H1031V449M1022 462V461H1023V462M1024 462V460H1025V462M1023 461V458H1025V460M1027 462V458H1028V462M1024 458V450H1027V458M1029 462V458H1030V462M1033 462V458H1034V462M1031 462V456H1033V458M1030 458V449H1032V456M1037 451V439H1042V450M1036 462V461H1037V462M1035 462V458H1036V461M1038 462V454H1039V462M1036 458V451H1039V454M1041 462V459H1042V462M1043 462V458H1044V462M1041 459V450H1043V458M1054 404V355H1079V389M1048 437V404H1060V424M1047 462V461H1048V462M1046 462V453H1047V461M1045 462V450H1047V453M1049 462V443H1050V462M1046 450V437H1050V443M1055 437V424H1065V434M1052 447V437H1057V450M1053 462V458H1054V462M1053 462V454H1054V458M1051 462V447H1053V454M1055 462V457H1057V462M1058 462V457H1059V462M1056 457V450H1058V457M1062 444V434H1069V446M1061 462V459H1062V462M1060 462V455H1061V459M1064 462V456H1065V462M1063 462V453H1065V456M1061 455V444H1064V453M1067 462V460H1069V462M1066 462V457H1068V460M1070 462V455H1071V462M1067 457V446H1070V455M1075 429V389H1083V413M1074 462V461H1075V462M1073 462V451H1075V461M1072 462V449H1074V451M1077 462V446H1078V462M1073 449V429H1077V446M1080 431V413H1086V433M1080 462V454H1081V462M1079 462V431H1081V454M1085 462V458H1086V462M1084 462V453H1086V458M1083 462V450H1085V453M1082 462V444H1084V450M1089 462V457H1090V462M1087 462V439H1089V457M1083 444V433H1088V439"/><path stroke="#1f77b4" d="M725 239V78H967V215"/></g>
<g clip-path="url(#cb1)" stroke="#fff" stroke-width="1.28"><circle cx="662.9" cy="725.4" r="8.0" fill="#21918c"/><circle cx="727.1" cy="688.7" r="8.0" fill="#21918c"/><circle cx="723.2" cy="706.3" r="8.0" fill="#21918c"/><circle cx="783.1" cy="692.5" r="8.0" fill="#21918c"/><circle cx="764.1" cy="712.3" r="8.0" fill="#21918c"/><circle cx="780.7" cy="717.8" r="8.0" fill="#21918c"/><circle cx="713.2" cy="719.9" r="8.0" fill="#21918c"/><circle cx="703.8" cy="728.2" r="8.0" fill="#21918c"/><circle cx="696.2" cy="743.2" r="8.0" fill="#21918c"/><circle cx="800.8" cy="726.8" r="8.0" fill="#21918c"/><circle cx="827.9" cy="737.0" r="8.0" fill="#21918c"/><circle cx="844.5" cy="743.5" r="8.0" fill="#21918c"/><circle cx="825.8" cy="754.3" r="8.0" fill="#21918c"/><circle cx="776.6" cy="766.3" r="8.0" fill="#21918c"/><circle cx="720.4" cy="754.8" r="8.0" fill="#21918c"/><circle cx="705.2" cy="761.8" r="8.0" fill="#21918c"/><circle cx="736.4" cy="776.7" r="8.0" fill="#21918c"/><circle cx="741.2" cy="782.3" r="8.0" fill="#21918c"/><circle cx="751.3" cy="773.3" r="8.0" fill="#21918c"/><circle cx="761.3" cy="765.6" r="8.0" fill="#21918c"/><circle cx="791.8" cy="769.8" r="8.0" fill="#21918c"/><circle cx="791.1" cy="778.8" r="8.0" fill="#21918c"/><circle cx="806.4" cy="781.6" r="8.0" fill="#21918c"/><circle cx="732.2" cy="725.4" r="8.0" fill="#21918c"/><circle cx="733.6" cy="728.2" r="8.0" fill="#21918c"/><circle cx="731.5" cy="736.5" r="8.0" fill="#21918c"/><circle cx="728.0" cy="751.8" r="8.0" fill="#21918c"/><circle cx="740.5" cy="742.1" r="8.0" fill="#21918c"/><circle cx="769.6" cy="736.5" r="8.0" fill="#21918c"/><circle cx="772.4" cy="747.6" r="8.0" fill="#21918c"/><circle cx="802.9" cy="746.9" r="8.0" fill="#21918c"/><circle cx="786.3" cy="758.7" r="8.0" fill="#21918c"/><circle cx="764.1" cy="726.8" r="8.0" fill="#21918c"/><circle cx="747.5" cy="715.7" r="8.0" fill="#21918c"/><circle cx="722.5" cy="744.9" r="8.0" fill="#21918c"/><circle cx="764.1" cy="753.2" r="8.0" fill="#21918c"/><circle cx="794.6" cy="742.1" r="8.0" fill="#21918c"/><circle cx="747.5" cy="750.4" r="8.0" fill="#21918c"/><circle cx="717.0" cy="761.5" r="8.0" fill="#21918c"/><circle cx="736.4" cy="747.6" r="8.0" fill="#21918c"/><circle cx="780.7" cy="744.9" r="8.0" fill="#21918c"/><circle cx="730.8" cy="758.7" r="8.0" fill="#21918c"/><circle cx="754.4" cy="735.2" r="8.0" fill="#21918c"/><circle cx="746.3" cy="840.2" r="8.0" fill="#fde725"/><circle cx="749.1" cy="864.5" r="8.0" fill="#fde725"/><circle cx="743.5" cy="895.0" r="8.0" fill="#fde725"/><circle cx="758.1" cy="894.3" r="8.0" fill="#fde725"/><circle cx="769.9" cy="884.6" r="8.0" fill="#fde725"/><circle cx="778.2" cy="880.4" r="8.0" fill="#fde725"/><circle cx="788.6" cy="834.7" r="8.0" fill="#fde725"/><circle cx="800.4" cy="834.7" r="8.0" fill="#fde725"/><circle cx="808.3" cy="829.8" r="8.0" fill="#fde725"/><circle cx="821.8" cy="838.8" r="8.0" fill="#fde725"/><circle cx="845.0" cy="828.8" r="8.0" fill="#fde725"/><circle cx="838.5" cy="836.0" r="8.0" fill="#fde725"/><circle cx="860.0" cy="890.1" r="8.0" fill="#fde725"/><circle cx="855.8" cy="892.9" r="8.0" fill="#fde725"/><circle cx="800.4" cy="896.3" r="8.0" fill="#fde725"/><circle cx="788.9" cy="888.7" r="8.0" fill="#fde725"/><circle cx="795.5" cy="849.2" r="8.0" fill="#fde725"/><circle cx="834.3" cy="854.1" r="8.0" fill="#fde725"/><circle cx="852.3" cy="855.4" r="8.0" fill="#fde725"/><circle cx="853.7" cy="875.5" r="8.0" fill="#fde725"/><circle cx="844.0" cy="897.7" r="8.0" fill="#fde725"/><circle cx="832.9" cy="883.9" r="8.0" fill="#fde725"/><circle cx="826.3" cy="892.9" r="8.0" fill="#fde725"/><circle cx="807.3" cy="877.6" r="8.0" fill="#fde725"/><circle cx="830.9" cy="872.1" r="8.0" fill="#fde725"/><circle cx="807.3" cy="867.9" r="8.0" fill="#fde725"/><circle cx="841.9" cy="863.8" r="8.0" fill="#fde725"/><circle cx="800.4" cy="841.6" r="8.0" fill="#fde725"/><circle cx="825.3" cy="877.6" r="8.0" fill="#fde725"/><circle cx="817.0" cy="874.9" r="8.0" fill="#fde725"/><circle cx="836.4" cy="877.6" r="8.0" fill="#fde725"/><circle cx="772.6" cy="874.9" r="8.0" fill="#fde725"/><circle cx="764.3" cy="877.6" r="8.0" fill="#fde725"/><circle cx="800.4" cy="885.9" r="8.0" fill="#fde725"/><circle cx="850.3" cy="891.5" r="8.0" fill="#fde725"/><circle cx="811.5" cy="858.2" r="8.0" fill="#fde725"/><circle cx="822.5" cy="855.4" r="8.0" fill="#fde725"/><circle cx="839.2" cy="883.2" r="8.0" fill="#fde725"/><circle cx="785.1" cy="877.6" r="8.0" fill="#fde725"/><circle cx="776.8" cy="861.0" r="8.0" fill="#fde725"/><circle cx="799.0" cy="873.5" r="8.0" fill="#fde725"/><circle cx="845.6" cy="604.6" r="8.0" fill="#440154"/><circle cx="898.0" cy="597.2" r="8.0" fill="#440154"/><circle cx="897.3" cy="603.4" r="8.0" fill="#440154"/><circle cx="882.0" cy="604.8" r="8.0" fill="#440154"/><circle cx="858.5" cy="612.9" r="8.0" fill="#440154"/><circle cx="877.9" cy="618.0" r="8.0" fill="#440154"/><circle cx="888.3" cy="614.5" r="8.0" fill="#440154"/><circle cx="898.7" cy="615.9" r="8.0" fill="#440154"/><circle cx="900.1" cy="624.2" r="8.0" fill="#440154"/><circle cx="912.5" cy="622.9" r="8.0" fill="#440154"/><circle cx="937.5" cy="608.3" r="8.0" fill="#440154"/><circle cx="953.4" cy="606.9" r="8.0" fill="#440154"/><circle cx="929.2" cy="621.5" r="8.0" fill="#440154"/><circle cx="972.1" cy="624.0" r="8.0" fill="#440154"/><circle cx="974.9" cy="639.5" r="8.0" fill="#440154"/><circle cx="962.4" cy="635.3" r="8.0" fill="#440154"/><circle cx="955.5" cy="637.4" r="8.0" fill="#440154"/><circle cx="939.6" cy="638.1" r="8.0" fill="#440154"/><circle cx="920.9" cy="634.6" r="8.0" fill="#440154"/><circle cx="928.5" cy="643.0" r="8.0" fill="#440154"/><circle cx="948.6" cy="652.0" r="8.0" fill="#440154"/><circle cx="959.0" cy="667.2" r="8.0" fill="#440154"/><circle cx="930.6" cy="661.0" r="8.0" fill="#440154"/><circle cx="918.1" cy="657.5" r="8.0" fill="#440154"/><circle cx="900.8" cy="657.5" r="8.0" fill="#440154"/><circle cx="906.3" cy="643.0" r="8.0" fill="#440154"/><circle cx="852.9" cy="638.1" r="8.0" fill="#440154"/><circle cx="861.3" cy="631.2" r="8.0" fill="#440154"/><circle cx="838.4" cy="647.8" r="8.0" fill="#440154"/><circle cx="852.9" cy="658.2" r="8.0" fill="#440154"/><circle cx="848.8" cy="672.1" r="8.0" fill="#440154"/><circle cx="887.6" cy="665.8" r="8.0" fill="#440154"/><circle cx="905.6" cy="674.8" r="8.0" fill="#440154"/><circle cx="890.4" cy="609.0" r="8.0" fill="#440154"/><circle cx="893.1" cy="617.3" r="8.0" fill="#440154"/><circle cx="931.9" cy="614.5" r="8.0" fill="#440154"/><circle cx="945.8" cy="617.3" r="8.0" fill="#440154"/><circle cx="943.0" cy="631.2" r="8.0" fill="#440154"/><circle cx="951.4" cy="645.0" r="8.0" fill="#440154"/><circle cx="931.9" cy="631.2" r="8.0" fill="#440154"/><circle cx="887.6" cy="620.1" r="8.0" fill="#440154"/><circle cx="952.7" cy="658.9" r="8.0" fill="#440154"/><circle cx="871.0" cy="620.1" r="8.0" fill="#440154"/><circle cx="959.7" cy="631.2" r="8.0" fill="#440154"/><circle cx="945.8" cy="609.0" r="8.0" fill="#440154"/><circle cx="923.6" cy="625.6" r="8.0" fill="#440154"/><circle cx="905.9" cy="718.2" r="8.0" fill="#440154"/><circle cx="939.5" cy="706.4" r="8.0" fill="#440154"/><circle cx="952.3" cy="712.0" r="8.0" fill="#440154"/><circle cx="963.4" cy="709.2" r="8.0" fill="#440154"/><circle cx="951.6" cy="721.0" r="8.0" fill="#440154"/><circle cx="953.0" cy="735.5" r="8.0" fill="#440154"/><circle cx="965.5" cy="736.9" r="8.0" fill="#440154"/><circle cx="944.7" cy="750.1" r="8.0" fill="#440154"/><circle cx="969.0" cy="746.6" r="8.0" fill="#440154"/><circle cx="967.6" cy="759.8" r="8.0" fill="#440154"/><circle cx="981.5" cy="761.9" r="8.0" fill="#440154"/><circle cx="991.2" cy="765.4" r="8.0" fill="#440154"/><circle cx="992.5" cy="755.0" r="8.0" fill="#440154"/><circle cx="1008.5" cy="741.8" r="8.0" fill="#440154"/><circle cx="1045.2" cy="755.6" r="8.0" fill="#440154"/><circle cx="1061.9" cy="761.2" r="8.0" fill="#440154"/><circle cx="1057.7" cy="766.7" r="8.0" fill="#440154"/><circle cx="1063.2" cy="742.5" r="8.0" fill="#440154"/><circle cx="1069.5" cy="734.9" r="8.0" fill="#440154"/><circle cx="1043.1" cy="733.5" r="8.0" fill="#440154"/><circle cx="1024.4" cy="732.8" r="8.0" fill="#440154"/><circle cx="1048.7" cy="702.3" r="8.0" fill="#440154"/><circle cx="1051.5" cy="699.5" r="8.0" fill="#440154"/><circle cx="1039.0" cy="707.1" r="8.0" fill="#440154"/><circle cx="1025.8" cy="698.1" r="8.0" fill="#440154"/><circle cx="1012.6" cy="691.2" r="8.0" fill="#440154"/><circle cx="1000.9" cy="684.3" r="8.0" fill="#440154"/><circle cx="992.5" cy="696.7" r="8.0" fill="#440154"/><circle cx="1005.7" cy="700.2" r="8.0" fill="#440154"/><circle cx="1012.6" cy="708.5" r="8.0" fill="#440154"/><circle cx="982.1" cy="712.4" r="8.0" fill="#440154"/><circle cx="1005.7" cy="714.1" r="8.0" fill="#440154"/><circle cx="992.5" cy="725.2" r="8.0" fill="#440154"/><circle cx="1009.9" cy="730.7" r="8.0" fill="#440154"/><circle cx="989.8" cy="732.8" r="8.0" fill="#440154"/><circle cx="1034.1" cy="718.2" r="8.0" fill="#440154"/><circle cx="1045.2" cy="723.8" r="8.0" fill="#440154"/><circle cx="973.1" cy="718.2" r="8.0" fill="#440154"/><circle cx="1023.0" cy="722.4" r="8.0" fill="#440154"/><circle cx="1006.4" cy="737.6" r="8.0" fill="#440154"/><circle cx="1059.1" cy="725.2" r="8.0" fill="#440154"/><circle cx="998.1" cy="701.6" r="8.0" fill="#440154"/><circle cx="1011.9" cy="721.0" r="8.0" fill="#440154"/><circle cx="1032.7" cy="709.9" r="8.0" fill="#440154"/><circle cx="998.1" cy="740.4" r="8.0" fill="#440154"/><circle cx="1036.9" cy="726.5" r="8.0" fill="#440154"/><circle cx="1053.5" cy="715.4" r="8.0" fill="#440154"/><circle cx="1018.9" cy="705.7" r="8.0" fill="#440154"/><circle cx="959.3" cy="726.5" r="8.0" fill="#440154"/><circle cx="1030.0" cy="705.7" r="8.0" fill="#440154"/><circle cx="1002.2" cy="722.4" r="8.0" fill="#440154"/><circle cx="669.8" cy="741.1" r="8.0" fill="#21918c"/><circle cx="664.7" cy="753.6" r="8.0" fill="#21918c"/><circle cx="675.0" cy="763.3" r="8.0" fill="#21918c"/><circle cx="667.7" cy="786.9" r="8.0" fill="#21918c"/><circle cx="735.9" cy="710.9" r="8.0" fill="#21918c"/><circle cx="820.0" cy="694.0" r="8.0" fill="#21918c"/><circle cx="690.3" cy="727.1" r="8.0" fill="#21918c"/><circle cx="716.3" cy="729.6" r="8.0" fill="#21918c"/><circle cx="759.2" cy="728.2" r="8.0" fill="#21918c"/><circle cx="779.3" cy="729.6" r="8.0" fill="#21918c"/><circle cx="844.2" cy="747.6" r="8.0" fill="#21918c"/><circle cx="789.7" cy="751.8" r="8.0" fill="#21918c"/><circle cx="777.9" cy="753.9" r="8.0" fill="#21918c"/><circle cx="756.5" cy="744.2" r="8.0" fill="#21918c"/><circle cx="703.4" cy="776.7" r="8.0" fill="#21918c"/><circle cx="740.5" cy="765.6" r="8.0" fill="#21918c"/><circle cx="740.2" cy="772.6" r="8.0" fill="#21918c"/><circle cx="748.0" cy="817.7" r="8.0" fill="#fde725"/><circle cx="728.7" cy="850.3" r="8.0" fill="#fde725"/><circle cx="748.4" cy="848.5" r="8.0" fill="#fde725"/><circle cx="764.0" cy="851.7" r="8.0" fill="#fde725"/><circle cx="765.0" cy="866.3" r="8.0" fill="#fde725"/><circle cx="744.9" cy="883.6" r="8.0" fill="#fde725"/><circle cx="743.1" cy="906.7" r="8.0" fill="#fde725"/><circle cx="758.8" cy="884.6" r="8.0" fill="#fde725"/><circle cx="781.6" cy="870.7" r="8.0" fill="#fde725"/><circle cx="781.6" cy="910.9" r="8.0" fill="#fde725"/><circle cx="790.9" cy="927.5" r="8.0" fill="#fde725"/><circle cx="871.3" cy="834.0" r="8.0" fill="#fde725"/><circle cx="863.4" cy="847.1" r="8.0" fill="#fde725"/><circle cx="875.9" cy="861.0" r="8.0" fill="#fde725"/><circle cx="879.4" cy="875.8" r="8.0" fill="#fde725"/><circle cx="897.4" cy="870.0" r="8.0" fill="#fde725"/><circle cx="895.6" cy="887.7" r="8.0" fill="#fde725"/><circle cx="886.6" cy="913.4" r="8.0" fill="#fde725"/><circle cx="837.1" cy="909.8" r="8.0" fill="#fde725"/><circle cx="794.8" cy="881.1" r="8.0" fill="#fde725"/><circle cx="812.8" cy="849.2" r="8.0" fill="#fde725"/><circle cx="830.9" cy="861.0" r="8.0" fill="#fde725"/><circle cx="854.1" cy="859.6" r="8.0" fill="#fde725"/><circle cx="839.9" cy="890.8" r="8.0" fill="#fde725"/><circle cx="927.8" cy="561.2" r="8.0" fill="#440154"/><circle cx="926.8" cy="575.3" r="8.0" fill="#440154"/><circle cx="950.7" cy="582.0" r="8.0" fill="#440154"/><circle cx="866.8" cy="585.1" r="8.0" fill="#440154"/><circle cx="920.2" cy="594.4" r="8.0" fill="#440154"/><circle cx="807.6" cy="604.4" r="8.0" fill="#440154"/><circle cx="820.4" cy="606.5" r="8.0" fill="#440154"/><circle cx="889.0" cy="595.1" r="8.0" fill="#440154"/><circle cx="956.9" cy="613.8" r="8.0" fill="#440154"/><circle cx="948.6" cy="623.5" r="8.0" fill="#440154"/><circle cx="1004.0" cy="625.6" r="8.0" fill="#440154"/><circle cx="963.8" cy="651.3" r="8.0" fill="#440154"/><circle cx="963.8" cy="663.1" r="8.0" fill="#440154"/><circle cx="946.2" cy="668.6" r="8.0" fill="#440154"/><circle cx="940.7" cy="679.7" r="8.0" fill="#440154"/><circle cx="917.4" cy="652.0" r="8.0" fill="#440154"/><circle cx="900.3" cy="641.2" r="8.0" fill="#440154"/><circle cx="880.9" cy="642.0" r="8.0" fill="#440154"/><circle cx="859.2" cy="639.5" r="8.0" fill="#440154"/><circle cx="817.3" cy="638.1" r="8.0" fill="#440154"/><circle cx="829.6" cy="643.0" r="8.0" fill="#440154"/><circle cx="882.0" cy="658.9" r="8.0" fill="#440154"/><circle cx="876.2" cy="671.4" r="8.0" fill="#440154"/><circle cx="894.1" cy="690.5" r="8.0" fill="#440154"/><circle cx="959.0" cy="689.8" r="8.0" fill="#440154"/><circle cx="920.9" cy="726.5" r="8.0" fill="#440154"/><circle cx="936.0" cy="733.7" r="8.0" fill="#440154"/><circle cx="899.7" cy="751.5" r="8.0" fill="#440154"/><circle cx="1024.4" cy="749.7" r="8.0" fill="#440154"/><circle cx="1015.4" cy="770.9" r="8.0" fill="#440154"/><circle cx="1059.5" cy="719.2" r="8.0" fill="#440154"/><circle cx="1029.3" cy="731.4" r="8.0" fill="#440154"/><circle cx="657.8" cy="721.0" r="8.0" fill="#21918c"/><circle cx="717.0" cy="695.4" r="8.0" fill="#21918c"/><circle cx="773.1" cy="698.1" r="8.0" fill="#21918c"/><circle cx="752.7" cy="719.5" r="8.0" fill="#21918c"/><circle cx="702.8" cy="733.8" r="8.0" fill="#21918c"/><circle cx="719.7" cy="735.6" r="8.0" fill="#21918c"/><circle cx="743.3" cy="733.5" r="8.0" fill="#21918c"/><circle cx="783.5" cy="737.9" r="8.0" fill="#21918c"/><circle cx="797.4" cy="733.1" r="8.0" fill="#21918c"/><circle cx="817.5" cy="742.1" r="8.0" fill="#21918c"/><circle cx="835.9" cy="753.4" r="8.0" fill="#21918c"/><circle cx="798.7" cy="752.1" r="8.0" fill="#21918c"/><circle cx="770.3" cy="762.6" r="8.0" fill="#21918c"/><circle cx="755.8" cy="753.9" r="8.0" fill="#21918c"/><circle cx="739.1" cy="755.9" r="8.0" fill="#21918c"/><circle cx="725.0" cy="766.1" r="8.0" fill="#21918c"/><circle cx="695.5" cy="760.5" r="8.0" fill="#21918c"/><circle cx="802.2" cy="767.0" r="8.0" fill="#21918c"/><circle cx="806.6" cy="785.5" r="8.0" fill="#21918c"/><circle cx="752.8" cy="837.0" r="8.0" fill="#fde725"/><circle cx="755.6" cy="869.7" r="8.0" fill="#fde725"/><circle cx="763.4" cy="892.2" r="8.0" fill="#fde725"/><circle cx="794.4" cy="835.6" r="8.0" fill="#fde725"/><circle cx="817.3" cy="829.1" r="8.0" fill="#fde725"/><circle cx="836.0" cy="830.2" r="8.0" fill="#fde725"/><circle cx="869.3" cy="894.0" r="8.0" fill="#fde725"/><circle cx="805.9" cy="904.2" r="8.0" fill="#fde725"/><circle cx="793.7" cy="870.4" r="8.0" fill="#fde725"/><circle cx="803.4" cy="861.7" r="8.0" fill="#fde725"/><circle cx="784.7" cy="854.1" r="8.0" fill="#fde725"/><circle cx="820.9" cy="865.2" r="8.0" fill="#fde725"/><circle cx="844.3" cy="870.0" r="8.0" fill="#fde725"/><circle cx="847.2" cy="884.1" r="8.0" fill="#fde725"/><circle cx="814.9" cy="884.6" r="8.0" fill="#fde725"/><circle cx="839.4" cy="615.5" r="8.0" fill="#440154"/><circle cx="879.3" cy="599.3" r="8.0" fill="#440154"/><circle cx="863.1" cy="620.8" r="8.0" fill="#440154"/><circle cx="877.9" cy="624.9" r="8.0" fill="#440154"/><circle cx="894.9" cy="622.2" r="8.0" fill="#440154"/><circle cx="914.6" cy="613.2" r="8.0" fill="#440154"/><circle cx="940.3" cy="614.3" r="8.0" fill="#440154"/><circle cx="935.4" cy="626.3" r="8.0" fill="#440154"/><circle cx="969.4" cy="623.3" r="8.0" fill="#440154"/><circle cx="956.2" cy="642.3" r="8.0" fill="#440154"/><circle cx="925.0" cy="636.0" r="8.0" fill="#440154"/><circle cx="939.6" cy="657.5" r="8.0" fill="#440154"/><circle cx="904.5" cy="652.7" r="8.0" fill="#440154"/><circle cx="849.2" cy="647.8" r="8.0" fill="#440154"/><circle cx="863.6" cy="661.0" r="8.0" fill="#440154"/><circle cx="848.1" cy="668.6" r="8.0" fill="#440154"/><circle cx="913.7" cy="679.7" r="8.0" fill="#440154"/><circle cx="902.9" cy="713.8" r="8.0" fill="#440154"/><circle cx="946.5" cy="715.4" r="8.0" fill="#440154"/><circle cx="964.4" cy="719.6" r="8.0" fill="#440154"/><circle cx="960.7" cy="732.4" r="8.0" fill="#440154"/><circle cx="953.0" cy="746.6" r="8.0" fill="#440154"/><circle cx="965.8" cy="755.6" r="8.0" fill="#440154"/><circle cx="988.4" cy="760.8" r="8.0" fill="#440154"/><circle cx="985.2" cy="744.8" r="8.0" fill="#440154"/><circle cx="1003.6" cy="747.3" r="8.0" fill="#440154"/><circle cx="1051.7" cy="755.4" r="8.0" fill="#440154"/><circle cx="1067.4" cy="741.4" r="8.0" fill="#440154"/><circle cx="1051.5" cy="731.4" r="8.0" fill="#440154"/><circle cx="1043.8" cy="712.3" r="8.0" fill="#440154"/><circle cx="1019.6" cy="714.5" r="8.0" fill="#440154"/><circle cx="1022.3" cy="699.5" r="8.0" fill="#440154"/><circle cx="985.6" cy="689.1" r="8.0" fill="#440154"/><circle cx="995.7" cy="712.3" r="8.0" fill="#440154"/><circle cx="999.1" cy="730.7" r="8.0" fill="#440154"/></g>
<rect x="637.33" y="58.9" width="453" height="403.1" fill="none" stroke="#000" stroke-width="2.13" stroke-linejoin="miter"/>
<rect x="637.33" y="543" width="453" height="403" fill="none" stroke="#000" stroke-width="2.13" stroke-linejoin="miter"/>
<line x1="628" y1="462" x2="637.33" y2="462" stroke="#000" stroke-width="2.13"/><text x="619.33" y="471.72" text-anchor="end" font-size="26.67">0</text>
<line x1="628" y1="397.05" x2="637.33" y2="397.05" stroke="#000" stroke-width="2.13"/><text x="619.33" y="406.77" text-anchor="end" font-size="26.67">5</text>
<line x1="628" y1="332.1" x2="637.33" y2="332.1" stroke="#000" stroke-width="2.13"/><text x="619.33" y="341.82" text-anchor="end" font-size="26.67">10</text>
<line x1="628" y1="267.15" x2="637.33" y2="267.15" stroke="#000" stroke-width="2.13"/><text x="619.33" y="276.87" text-anchor="end" font-size="26.67">15</text>
<line x1="628" y1="202.2" x2="637.33" y2="202.2" stroke="#000" stroke-width="2.13"/><text x="619.33" y="211.92" text-anchor="end" font-size="26.67">20</text>
<line x1="628" y1="137.25" x2="637.33" y2="137.25" stroke="#000" stroke-width="2.13"/><text x="619.33" y="146.97" text-anchor="end" font-size="26.67">25</text>
<line x1="628" y1="72.3" x2="637.33" y2="72.3" stroke="#000" stroke-width="2.13"/><text x="619.33" y="82.02" text-anchor="end" font-size="26.67">30</text>
<line x1="628" y1="937.8" x2="637.33" y2="937.8" stroke="#000" stroke-width="2.13"/><text x="619.33" y="947.52" text-anchor="end" font-size="26.67">−15</text>
<line x1="628" y1="874.47" x2="637.33" y2="874.47" stroke="#000" stroke-width="2.13"/><text x="619.33" y="884.19" text-anchor="end" font-size="26.67">−10</text>
<line x1="628" y1="811.13" x2="637.33" y2="811.13" stroke="#000" stroke-width="2.13"/><text x="619.33" y="820.86" text-anchor="end" font-size="26.67">−5</text>
<line x1="628" y1="747.8" x2="637.33" y2="747.8" stroke="#000" stroke-width="2.13"/><text x="619.33" y="757.52" text-anchor="end" font-size="26.67">0</text>
<line x1="628" y1="684.46" x2="637.33" y2="684.46" stroke="#000" stroke-width="2.13"/><text x="619.33" y="694.18" text-anchor="end" font-size="26.67">5</text>
<line x1="628" y1="621.13" x2="637.33" y2="621.13" stroke="#000" stroke-width="2.13"/><text x="619.33" y="630.85" text-anchor="end" font-size="26.67">10</text>
<line x1="628" y1="557.79" x2="637.33" y2="557.79" stroke="#000" stroke-width="2.13"/><text x="619.33" y="567.51" text-anchor="end" font-size="26.67">15</text>
<line x1="727.33" y1="946" x2="727.33" y2="955.33" stroke="#000" stroke-width="2.13"/><text x="727.33" y="985.67" text-anchor="middle" font-size="26.67">−10</text>
<line x1="841.83" y1="946" x2="841.83" y2="955.33" stroke="#000" stroke-width="2.13"/><text x="841.83" y="985.67" text-anchor="middle" font-size="26.67">−5</text>
<line x1="956.33" y1="946" x2="956.33" y2="955.33" stroke="#000" stroke-width="2.13"/><text x="956.33" y="985.67" text-anchor="middle" font-size="26.67">0</text>
<line x1="1070.83" y1="946" x2="1070.83" y2="955.33" stroke="#000" stroke-width="2.13"/><text x="1070.83" y="985.67" text-anchor="middle" font-size="26.67">5</text>
<text x="863.83" y="42.9" text-anchor="middle" font-size="32.0">Complete Linkge</text>
<text x="863.83" y="527" text-anchor="middle" font-size="32.0">K = 3</text>
<g clip-path="url(#ct2)" fill="none" stroke-width="4.0" stroke-linejoin="round" stroke-linecap="butt"><path stroke="#ff7f0e" d="M1195 322V221H1317V313M1181 457V322H1208V355M1184 419V355H1233V365M1186 462V452H1187V462M1185 462V439H1186V452M1184 462V429H1185V439M1182 462V419H1185V429M1210 387V365H1256V383M1201 413V387H1220V413M1195 428V413H1207V425M1191 442V428H1198V441M1189 462V457H1190V462M1188 462V448H1189V457M1192 462V460H1193V462M1191 462V457H1193V460M1194 462V452H1195V462M1192 457V445H1195V452M1189 448V442H1193V445M1196 462V455H1198V462M1199 462V448H1200V462M1197 455V441H1199V448M1203 443V425H1211V439M1202 462V453H1203V462M1204 462V452H1206V462M1203 453V448H1205V452M1201 462V443H1204V448M1208 462V460H1209V462M1210 462V459H1212V462M1209 460V452H1211V459M1207 462V446H1210V452M1213 462V442H1214V462M1208 446V439H1213V442M1215 431V413H1225V418M1215 462V431H1216V462M1219 436V418H1230V426M1218 462V451H1219V462M1217 462V444H1219V451M1220 462V439H1222V462M1218 444V436H1221V439M1226 441V426H1235V439M1226 462V460H1227V462M1225 462V458H1227V460M1224 462V454H1226V458M1223 462V452H1225V454M1228 462V452H1230V462M1224 452V441H1229V452M1233 462V461H1234V462M1232 462V452H1234V461M1231 462V449H1233V452M1236 462V460H1237V462M1238 462V453H1239V462M1236 460V448H1238V453M1232 449V439H1237V448M1247 404V383H1265V400M1244 432V404H1251V414M1241 462V458H1242V462M1243 462V455H1244V462M1241 458V451H1244V455M1240 462V447H1243V451M1247 462V455H1248V462M1245 462V435H1247V455M1241 447V432H1246V435M1249 462V455H1250V462M1252 462V434H1252V462M1250 455V414H1252V434M1255 421V400H1275V406M1253 462V448H1255V462M1258 462V452H1259V462M1257 462V443H1258V452M1256 462V426H1257V443M1254 448V421H1257V426M1268 430V406H1281V428M1264 446V430H1273V445M1261 462V460H1262V462M1263 462V460H1264V462M1262 460V456H1264V460M1260 462V450H1263V456M1266 462V457H1267V462M1268 462V456H1269V462M1266 457V449H1268V456M1261 450V446H1267V449M1272 462V460H1273V462M1271 462V459H1272V460M1270 462V452H1272V459M1274 462V451H1275V462M1271 452V445H1275V451M1278 444V428H1284V443M1278 462V452H1279V462M1277 462V444H1279V452M1283 462V457H1284V462M1281 462V452H1283V457M1280 462V448H1282V452M1286 462V455H1287V462M1285 462V445H1287V455M1281 448V443H1286V445M1293 419V313H1342V355M1289 462V448H1290V462M1292 462V453H1293V462M1291 462V443H1293V453M1289 448V436H1292V443M1294 462V435H1295V462M1291 436V419H1295V435M1311 365V355H1373V359M1295 419V365H1327V374M1310 397V374H1344V390M1301 427V397H1319V419M1299 462V453H1300V462M1297 462V443H1299V453M1302 462V449H1303V462M1301 462V446H1302V449M1305 462V455H1306V462M1304 462V439H1306V455M1302 446V433H1305V439M1298 443V427H1303V433M1311 441V419H1327V425M1309 462V457H1310V462M1311 462V456H1312V462M1310 457V454H1312V456M1308 462V450H1311V454M1307 462V447H1309V450M1314 462V445H1315V462M1308 447V441H1314V445M1322 441V425H1332V437M1316 462V456H1317V462M1322 462V459H1323V462M1320 462V456H1322V459M1319 462V453H1321V456M1318 462V448H1320V453M1316 456V446H1319V448M1324 462V455H1325V462M1327 462V458H1329V462M1326 462V453H1328V458M1325 455V444H1327V453M1318 446V441H1326V444M1330 462V456H1332V462M1333 462V454H1334V462M1331 456V437H1333V454M1334 462V444H1336V462M1338 462V449H1339V462M1337 462V439H1338V449M1342 462V459H1343V462M1341 462V458H1343V459M1340 462V450H1342V458M1347 462V457H1348V462M1345 462V450H1347V457M1344 462V439H1346V450M1341 450V435H1345V439M1337 439V421H1343V435M1335 444V407H1340V421M1350 462V443H1351V462M1349 462V430H1351V443M1354 462V431H1355V462M1353 462V429H1354V431M1350 430V395H1354V429M1338 407V390H1352V395M1363 400V359H1384V384M1359 431V400H1367V429M1358 462V456H1360V462M1357 462V452H1359V456M1356 462V443H1358V452M1361 462V438H1362V462M1357 443V431H1361V438M1364 462V458H1365V462M1366 462V457H1367V462M1364 458V454H1367V457M1363 462V450H1366V454M1369 462V441H1371V462M1368 462V430H1370V441M1364 450V429H1369V430M1376 424V384H1392V408M1372 462V455H1373V462M1374 462V448H1375V462M1372 455V437H1375V448M1378 462V441H1379V462M1377 462V427H1378V441M1374 437V424H1377V427M1384 431V408H1399V418M1381 442V431H1388V445M1382 462V451H1383V462M1381 462V450H1383V451M1380 462V442H1382V450M1387 462V459H1388V462M1385 462V456H1387V459M1384 462V452H1386V456M1390 462V454H1391V462M1389 462V450H1390V454M1385 452V445H1389V450M1392 462V457H1393V462M1395 462V453H1396V462M1394 462V447H1396V453M1397 462V460H1399V462M1400 462V452H1401V462M1398 460V444H1400V452M1395 447V439H1399V444M1392 457V425H1397V439M1403 462V454H1404V462M1405 462V451H1407V462M1404 454V446H1406V451M1402 462V421H1405V446M1395 425V418H1403V421"/><path stroke="#2ca02c" d="M1426 367V353H1511V363M1409 388V367H1443V371M1413 388V371H1472V382M1409 462V429H1410V462M1414 462V460H1415V462M1412 462V454H1414V460M1417 462V448H1418V462M1416 462V444H1417V448M1413 454V429H1417V444M1411 462V414H1415V429M1419 462V439H1420V462M1422 462V453H1423V462M1421 462V434H1423V453M1420 439V410H1422V434M1413 414V396H1421V410M1409 429V388H1417V396M1456 408V382H1489V400M1444 421V408H1467V418M1437 439V421H1451V441M1433 449V439H1442V450M1427 462V462H1429V462M1426 462V461H1428V462M1425 462V459H1427V461M1430 462V462H1431V462M1434 462V461H1435V462M1433 462V460H1434V461M1431 462V457H1433V460M1426 459V456H1432V457M1438 462V461H1439V462M1438 462V457H1439V461M1437 462V456H1438V457M1436 462V452H1437V456M1429 456V449H1436V452M1441 462V456H1442V462M1443 462V455H1445V462M1442 456V453H1444V455M1440 462V450H1443V453M1446 462V458H1447V462M1448 462V457H1449V462M1451 462V458H1452V462M1450 462V456H1452V458M1449 457V454H1451V456M1446 458V450H1450V454M1454 462V458H1455V462M1453 462V447H1455V458M1448 450V441H1454V447M1460 431V418H1474V430M1456 447V431H1463V447M1458 462V460H1459V462M1463 462V460H1464V462M1462 462V459H1464V460M1461 462V457H1463V459M1460 462V456H1462V457M1458 460V452H1461V456M1467 462V455H1468V462M1466 462V452H1467V455M1460 452V447H1467V452M1471 443V430H1477V447M1469 462V456H1471V462M1472 462V454H1473V462M1470 456V443H1472V454M1474 462V455H1475V462M1478 462V458H1479V462M1477 462V456H1478V458M1480 462V456H1481V462M1478 456V450H1481V456M1475 455V447H1479V450M1486 431V400H1491V418M1483 462V454H1485V462M1486 462V453H1487V462M1484 454V449H1486V453M1482 462V448H1485V449M1488 462V447H1489V462M1484 448V431H1488V447M1489 435V418H1494V434M1491 462V447H1492V462M1494 462V457H1495V462M1493 462V453H1495V457M1497 462V447H1498V462M1494 453V438H1497V447M1491 447V434H1496V438M1507 407V363H1515V401M1503 434V407H1510V435M1499 462V458H1500V462M1501 462V456H1502V462M1499 458V455H1502V456M1505 462V454H1506V462M1504 462V448H1505V454M1507 462V446H1508V462M1504 448V437H1508V446M1501 455V434H1506V437M1511 462V456H1512V462M1513 462V451H1515V462M1512 456V417H1514V451M1516 462V452H1517V462M1519 462V433H1520V462M1518 462V427H1519V433M1516 452V411H1519V427M1513 417V401H1517V411"/><path stroke="#d62728" d="M1523 361V332H1550V336M1521 462V428H1522V462M1524 462V428H1525V462M1523 462V388H1525V428M1521 428V361H1524V388M1530 377V336H1570V373M1529 462V445H1530V462M1528 462V416H1530V445M1527 462V392H1529V416M1531 462V385H1533V462M1528 392V377H1532V385M1542 386V373H1597V380M1535 417V386H1550V395M1537 462V451H1538V462M1535 462V429H1537V451M1534 462V417H1536V429M1542 429V395H1558V413M1540 462V458H1542V462M1539 462V447H1541V458M1543 462V446H1544V462M1540 447V429H1543V446M1550 424V413H1566V424M1546 462V457H1547V462M1545 462V445H1547V457M1548 462V439H1549V462M1546 445V435H1549V439M1552 462V458H1553V462M1555 462V450H1556V462M1554 462V448H1555V450M1552 458V441H1554V448M1550 462V432H1553V441M1547 435V424H1552V432M1562 436V424H1570V440M1558 462V456H1559V462M1557 462V452H1559V456M1561 462V456H1563V462M1560 462V452H1562V456M1558 452V447H1561V452M1565 462V450H1566V462M1564 462V445H1565V450M1559 447V436H1564V445M1568 462V456H1569V462M1567 462V455H1569V456M1570 462V455H1571V462M1573 462V461H1574V462M1572 462V454H1574V461M1571 455V448H1573V454M1568 455V440H1572V448M1583 409V380H1611V407M1579 431V409H1588V422M1577 462V457H1578V462M1576 462V451H1578V457M1579 462V442H1580V462M1577 451V431H1580V442M1583 440V422H1593V439M1585 462V456H1586V462M1584 462V450H1586V456M1583 462V446H1585V450M1581 462V440H1584V446M1589 462V461H1590V462M1587 462V453H1589V461M1592 462V456H1593V462M1591 462V450H1593V456M1588 453V445H1592V450M1595 462V461H1596V462M1594 462V445H1596V461M1590 445V439H1595V445M1601 426V407H1622V414M1597 462V449H1598V462M1599 462V447H1600V462M1598 449V443H1600V447M1601 462V451H1602V462M1605 462V458H1606V462M1603 462V450H1605V458M1602 451V432H1604V450M1599 443V426H1603V432M1616 437V414H1628V431M1612 445V437H1619V446M1609 462V459H1610V462M1611 462V461H1612V462M1613 462V459H1614V462M1612 461V456H1614V459M1609 459V454H1613V456M1608 462V451H1611V454M1607 462V450H1609V451M1615 462V449H1617V462M1608 450V445H1616V449M1618 462V460H1619V462M1618 462V459H1619V460M1620 462V453H1622V462M1618 459V446H1621V453M1623 462V456H1624V462M1625 462V457H1626V462M1628 462V456H1629V462M1626 457V451H1628V456M1623 456V444H1627V451M1632 462V458H1633V462M1631 462V451H1633V458M1630 462V441H1632V451M1625 444V431H1631V441"/><path stroke="#1f77b4" d="M1256 221V78H1502V172M1468 353V172H1536V332"/></g>
<g clip-path="url(#cb2)" stroke="#fff" stroke-width="1.28"><circle cx="1206.2" cy="725.4" r="8.0" fill="#31688e"/><circle cx="1270.4" cy="688.7" r="8.0" fill="#31688e"/><circle cx="1266.5" cy="706.3" r="8.0" fill="#31688e"/><circle cx="1326.4" cy="692.5" r="8.0" fill="#31688e"/><circle cx="1307.4" cy="712.3" r="8.0" fill="#31688e"/><circle cx="1324.1" cy="717.8" r="8.0" fill="#31688e"/><circle cx="1256.5" cy="719.9" r="8.0" fill="#31688e"/><circle cx="1247.1" cy="728.2" r="8.0" fill="#31688e"/><circle cx="1239.5" cy="743.2" r="8.0" fill="#31688e"/><circle cx="1344.2" cy="726.8" r="8.0" fill="#31688e"/><circle cx="1371.2" cy="737.0" r="8.0" fill="#31688e"/><circle cx="1387.8" cy="743.5" r="8.0" fill="#31688e"/><circle cx="1369.1" cy="754.3" r="8.0" fill="#31688e"/><circle cx="1319.9" cy="766.3" r="8.0" fill="#31688e"/><circle cx="1263.8" cy="754.8" r="8.0" fill="#31688e"/><circle cx="1248.5" cy="761.8" r="8.0" fill="#31688e"/><circle cx="1279.7" cy="776.7" r="8.0" fill="#31688e"/><circle cx="1284.5" cy="782.3" r="8.0" fill="#31688e"/><circle cx="1294.7" cy="773.3" r="8.0" fill="#31688e"/><circle cx="1304.6" cy="765.6" r="8.0" fill="#31688e"/><circle cx="1335.1" cy="769.8" r="8.0" fill="#31688e"/><circle cx="1334.4" cy="778.8" r="8.0" fill="#31688e"/><circle cx="1349.7" cy="781.6" r="8.0" fill="#31688e"/><circle cx="1275.5" cy="725.4" r="8.0" fill="#31688e"/><circle cx="1276.9" cy="728.2" r="8.0" fill="#31688e"/><circle cx="1274.8" cy="736.5" r="8.0" fill="#31688e"/><circle cx="1271.4" cy="751.8" r="8.0" fill="#31688e"/><circle cx="1283.9" cy="742.1" r="8.0" fill="#31688e"/><circle cx="1313.0" cy="736.5" r="8.0" fill="#31688e"/><circle cx="1315.7" cy="747.6" r="8.0" fill="#31688e"/><circle cx="1346.2" cy="746.9" r="8.0" fill="#31688e"/><circle cx="1329.6" cy="758.7" r="8.0" fill="#31688e"/><circle cx="1307.4" cy="726.8" r="8.0" fill="#31688e"/><circle cx="1290.8" cy="715.7" r="8.0" fill="#31688e"/><circle cx="1265.8" cy="744.9" r="8.0" fill="#31688e"/><circle cx="1307.4" cy="753.2" r="8.0" fill="#31688e"/><circle cx="1337.9" cy="742.1" r="8.0" fill="#31688e"/><circle cx="1290.8" cy="750.4" r="8.0" fill="#31688e"/><circle cx="1260.3" cy="761.5" r="8.0" fill="#31688e"/><circle cx="1279.7" cy="747.6" r="8.0" fill="#31688e"/><circle cx="1324.1" cy="744.9" r="8.0" fill="#31688e"/><circle cx="1274.1" cy="758.7" r="8.0" fill="#31688e"/><circle cx="1297.7" cy="735.2" r="8.0" fill="#31688e"/><circle cx="1289.6" cy="840.2" r="8.0" fill="#35b779"/><circle cx="1292.4" cy="864.5" r="8.0" fill="#35b779"/><circle cx="1286.9" cy="895.0" r="8.0" fill="#35b779"/><circle cx="1301.4" cy="894.3" r="8.0" fill="#35b779"/><circle cx="1313.2" cy="884.6" r="8.0" fill="#35b779"/><circle cx="1321.5" cy="880.4" r="8.0" fill="#35b779"/><circle cx="1331.9" cy="834.7" r="8.0" fill="#35b779"/><circle cx="1343.7" cy="834.7" r="8.0" fill="#35b779"/><circle cx="1351.6" cy="829.8" r="8.0" fill="#35b779"/><circle cx="1365.2" cy="838.8" r="8.0" fill="#35b779"/><circle cx="1388.3" cy="828.8" r="8.0" fill="#35b779"/><circle cx="1381.8" cy="836.0" r="8.0" fill="#35b779"/><circle cx="1403.3" cy="890.1" r="8.0" fill="#35b779"/><circle cx="1399.1" cy="892.9" r="8.0" fill="#35b779"/><circle cx="1343.7" cy="896.3" r="8.0" fill="#35b779"/><circle cx="1332.2" cy="888.7" r="8.0" fill="#35b779"/><circle cx="1338.8" cy="849.2" r="8.0" fill="#35b779"/><circle cx="1377.7" cy="854.1" r="8.0" fill="#35b779"/><circle cx="1395.7" cy="855.4" r="8.0" fill="#35b779"/><circle cx="1397.1" cy="875.5" r="8.0" fill="#35b779"/><circle cx="1387.4" cy="897.7" r="8.0" fill="#35b779"/><circle cx="1376.3" cy="883.9" r="8.0" fill="#35b779"/><circle cx="1369.6" cy="892.9" r="8.0" fill="#35b779"/><circle cx="1350.6" cy="877.6" r="8.0" fill="#35b779"/><circle cx="1374.2" cy="872.1" r="8.0" fill="#35b779"/><circle cx="1350.6" cy="867.9" r="8.0" fill="#35b779"/><circle cx="1385.3" cy="863.8" r="8.0" fill="#35b779"/><circle cx="1343.7" cy="841.6" r="8.0" fill="#35b779"/><circle cx="1368.6" cy="877.6" r="8.0" fill="#35b779"/><circle cx="1360.3" cy="874.9" r="8.0" fill="#35b779"/><circle cx="1379.7" cy="877.6" r="8.0" fill="#35b779"/><circle cx="1316.0" cy="874.9" r="8.0" fill="#35b779"/><circle cx="1307.7" cy="877.6" r="8.0" fill="#35b779"/><circle cx="1343.7" cy="885.9" r="8.0" fill="#35b779"/><circle cx="1393.6" cy="891.5" r="8.0" fill="#35b779"/><circle cx="1354.8" cy="858.2" r="8.0" fill="#35b779"/><circle cx="1365.9" cy="855.4" r="8.0" fill="#35b779"/><circle cx="1382.5" cy="883.2" r="8.0" fill="#35b779"/><circle cx="1328.4" cy="877.6" r="8.0" fill="#35b779"/><circle cx="1320.1" cy="861.0" r="8.0" fill="#35b779"/><circle cx="1342.3" cy="873.5" r="8.0" fill="#35b779"/><circle cx="1388.9" cy="604.6" r="8.0" fill="#440154"/><circle cx="1441.3" cy="597.2" r="8.0" fill="#440154"/><circle cx="1440.6" cy="603.4" r="8.0" fill="#440154"/><circle cx="1425.4" cy="604.8" r="8.0" fill="#440154"/><circle cx="1401.8" cy="612.9" r="8.0" fill="#440154"/><circle cx="1421.2" cy="618.0" r="8.0" fill="#440154"/><circle cx="1431.6" cy="614.5" r="8.0" fill="#440154"/><circle cx="1442.0" cy="615.9" r="8.0" fill="#440154"/><circle cx="1443.4" cy="624.2" r="8.0" fill="#440154"/><circle cx="1455.9" cy="622.9" r="8.0" fill="#440154"/><circle cx="1480.8" cy="608.3" r="8.0" fill="#440154"/><circle cx="1496.8" cy="606.9" r="8.0" fill="#440154"/><circle cx="1472.5" cy="621.5" r="8.0" fill="#440154"/><circle cx="1515.5" cy="624.0" r="8.0" fill="#440154"/><circle cx="1518.3" cy="639.5" r="8.0" fill="#440154"/><circle cx="1505.8" cy="635.3" r="8.0" fill="#440154"/><circle cx="1498.8" cy="637.4" r="8.0" fill="#440154"/><circle cx="1482.9" cy="638.1" r="8.0" fill="#440154"/><circle cx="1464.2" cy="634.6" r="8.0" fill="#440154"/><circle cx="1471.8" cy="643.0" r="8.0" fill="#440154"/><circle cx="1491.9" cy="652.0" r="8.0" fill="#440154"/><circle cx="1502.3" cy="667.2" r="8.0" fill="#440154"/><circle cx="1473.9" cy="661.0" r="8.0" fill="#440154"/><circle cx="1461.4" cy="657.5" r="8.0" fill="#440154"/><circle cx="1444.1" cy="657.5" r="8.0" fill="#440154"/><circle cx="1449.6" cy="643.0" r="8.0" fill="#440154"/><circle cx="1396.3" cy="638.1" r="8.0" fill="#440154"/><circle cx="1404.6" cy="631.2" r="8.0" fill="#440154"/><circle cx="1381.7" cy="647.8" r="8.0" fill="#440154"/><circle cx="1396.3" cy="658.2" r="8.0" fill="#440154"/><circle cx="1392.1" cy="672.1" r="8.0" fill="#440154"/><circle cx="1430.9" cy="665.8" r="8.0" fill="#440154"/><circle cx="1448.9" cy="674.8" r="8.0" fill="#440154"/><circle cx="1433.7" cy="609.0" r="8.0" fill="#440154"/><circle cx="1436.5" cy="617.3" r="8.0" fill="#440154"/><circle cx="1475.3" cy="614.5" r="8.0" fill="#440154"/><circle cx="1489.1" cy="617.3" r="8.0" fill="#440154"/><circle cx="1486.4" cy="631.2" r="8.0" fill="#440154"/><circle cx="1494.7" cy="645.0" r="8.0" fill="#440154"/><circle cx="1475.3" cy="631.2" r="8.0" fill="#440154"/><circle cx="1430.9" cy="620.1" r="8.0" fill="#440154"/><circle cx="1496.1" cy="658.9" r="8.0" fill="#440154"/><circle cx="1414.3" cy="620.1" r="8.0" fill="#440154"/><circle cx="1503.0" cy="631.2" r="8.0" fill="#440154"/><circle cx="1489.1" cy="609.0" r="8.0" fill="#440154"/><circle cx="1467.0" cy="625.6" r="8.0" fill="#440154"/><circle cx="1449.2" cy="718.2" r="8.0" fill="#fde725"/><circle cx="1482.8" cy="706.4" r="8.0" fill="#fde725"/><circle cx="1495.7" cy="712.0" r="8.0" fill="#fde725"/><circle cx="1506.8" cy="709.2" r="8.0" fill="#fde725"/><circle cx="1495.0" cy="721.0" r="8.0" fill="#fde725"/><circle cx="1496.4" cy="735.5" r="8.0" fill="#fde725"/><circle cx="1508.8" cy="736.9" r="8.0" fill="#fde725"/><circle cx="1488.0" cy="750.1" r="8.0" fill="#fde725"/><circle cx="1512.3" cy="746.6" r="8.0" fill="#fde725"/><circle cx="1510.9" cy="759.8" r="8.0" fill="#fde725"/><circle cx="1524.8" cy="761.9" r="8.0" fill="#fde725"/><circle cx="1534.5" cy="765.4" r="8.0" fill="#fde725"/><circle cx="1535.9" cy="755.0" r="8.0" fill="#fde725"/><circle cx="1551.8" cy="741.8" r="8.0" fill="#fde725"/><circle cx="1588.5" cy="755.6" r="8.0" fill="#fde725"/><circle cx="1605.2" cy="761.2" r="8.0" fill="#fde725"/><circle cx="1601.0" cy="766.7" r="8.0" fill="#fde725"/><circle cx="1606.6" cy="742.5" r="8.0" fill="#fde725"/><circle cx="1612.8" cy="734.9" r="8.0" fill="#fde725"/><circle cx="1586.5" cy="733.5" r="8.0" fill="#fde725"/><circle cx="1567.8" cy="732.8" r="8.0" fill="#fde725"/><circle cx="1592.0" cy="702.3" r="8.0" fill="#fde725"/><circle cx="1594.8" cy="699.5" r="8.0" fill="#fde725"/><circle cx="1582.3" cy="707.1" r="8.0" fill="#fde725"/><circle cx="1569.1" cy="698.1" r="8.0" fill="#fde725"/><circle cx="1556.0" cy="691.2" r="8.0" fill="#fde725"/><circle cx="1544.2" cy="684.3" r="8.0" fill="#fde725"/><circle cx="1535.9" cy="696.7" r="8.0" fill="#fde725"/><circle cx="1549.0" cy="700.2" r="8.0" fill="#fde725"/><circle cx="1556.0" cy="708.5" r="8.0" fill="#fde725"/><circle cx="1525.5" cy="712.4" r="8.0" fill="#fde725"/><circle cx="1549.0" cy="714.1" r="8.0" fill="#fde725"/><circle cx="1535.9" cy="725.2" r="8.0" fill="#fde725"/><circle cx="1553.2" cy="730.7" r="8.0" fill="#fde725"/><circle cx="1533.1" cy="732.8" r="8.0" fill="#fde725"/><circle cx="1577.5" cy="718.2" r="8.0" fill="#fde725"/><circle cx="1588.5" cy="723.8" r="8.0" fill="#fde725"/><circle cx="1516.5" cy="718.2" r="8.0" fill="#fde725"/><circle cx="1566.4" cy="722.4" r="8.0" fill="#fde725"/><circle cx="1549.7" cy="737.6" r="8.0" fill="#fde725"/><circle cx="1602.4" cy="725.2" r="8.0" fill="#fde725"/><circle cx="1541.4" cy="701.6" r="8.0" fill="#fde725"/><circle cx="1555.3" cy="721.0" r="8.0" fill="#fde725"/><circle cx="1576.1" cy="709.9" r="8.0" fill="#fde725"/><circle cx="1541.4" cy="740.4" r="8.0" fill="#fde725"/><circle cx="1580.2" cy="726.5" r="8.0" fill="#fde725"/><circle cx="1596.9" cy="715.4" r="8.0" fill="#fde725"/><circle cx="1562.2" cy="705.7" r="8.0" fill="#fde725"/><circle cx="1502.6" cy="726.5" r="8.0" fill="#fde725"/><circle cx="1573.3" cy="705.7" r="8.0" fill="#fde725"/><circle cx="1545.6" cy="722.4" r="8.0" fill="#fde725"/><circle cx="1213.2" cy="741.1" r="8.0" fill="#31688e"/><circle cx="1208.0" cy="753.6" r="8.0" fill="#31688e"/><circle cx="1218.3" cy="763.3" r="8.0" fill="#31688e"/><circle cx="1211.1" cy="786.9" r="8.0" fill="#31688e"/><circle cx="1279.3" cy="710.9" r="8.0" fill="#31688e"/><circle cx="1363.3" cy="694.0" r="8.0" fill="#31688e"/><circle cx="1233.7" cy="727.1" r="8.0" fill="#31688e"/><circle cx="1259.6" cy="729.6" r="8.0" fill="#31688e"/><circle cx="1302.6" cy="728.2" r="8.0" fill="#31688e"/><circle cx="1322.7" cy="729.6" r="8.0" fill="#31688e"/><circle cx="1387.5" cy="747.6" r="8.0" fill="#31688e"/><circle cx="1333.1" cy="751.8" r="8.0" fill="#31688e"/><circle cx="1321.3" cy="753.9" r="8.0" fill="#31688e"/><circle cx="1299.8" cy="744.2" r="8.0" fill="#31688e"/><circle cx="1246.7" cy="776.7" r="8.0" fill="#31688e"/><circle cx="1283.9" cy="765.6" r="8.0" fill="#31688e"/><circle cx="1283.6" cy="772.6" r="8.0" fill="#31688e"/><circle cx="1291.3" cy="817.7" r="8.0" fill="#35b779"/><circle cx="1272.0" cy="850.3" r="8.0" fill="#35b779"/><circle cx="1291.7" cy="848.5" r="8.0" fill="#35b779"/><circle cx="1307.4" cy="851.7" r="8.0" fill="#35b779"/><circle cx="1308.3" cy="866.3" r="8.0" fill="#35b779"/><circle cx="1288.2" cy="883.6" r="8.0" fill="#35b779"/><circle cx="1286.4" cy="906.7" r="8.0" fill="#35b779"/><circle cx="1302.1" cy="884.6" r="8.0" fill="#35b779"/><circle cx="1325.0" cy="870.7" r="8.0" fill="#35b779"/><circle cx="1325.0" cy="910.9" r="8.0" fill="#35b779"/><circle cx="1334.3" cy="927.5" r="8.0" fill="#35b779"/><circle cx="1414.7" cy="834.0" r="8.0" fill="#35b779"/><circle cx="1406.8" cy="847.1" r="8.0" fill="#35b779"/><circle cx="1419.2" cy="861.0" r="8.0" fill="#35b779"/><circle cx="1422.7" cy="875.8" r="8.0" fill="#35b779"/><circle cx="1440.7" cy="870.0" r="8.0" fill="#35b779"/><circle cx="1438.9" cy="887.7" r="8.0" fill="#35b779"/><circle cx="1429.9" cy="913.4" r="8.0" fill="#35b779"/><circle cx="1380.4" cy="909.8" r="8.0" fill="#35b779"/><circle cx="1338.1" cy="881.1" r="8.0" fill="#35b779"/><circle cx="1356.2" cy="849.2" r="8.0" fill="#35b779"/><circle cx="1374.2" cy="861.0" r="8.0" fill="#35b779"/><circle cx="1397.5" cy="859.6" r="8.0" fill="#35b779"/><circle cx="1383.2" cy="890.8" r="8.0" fill="#35b779"/><circle cx="1471.1" cy="561.2" r="8.0" fill="#440154"/><circle cx="1470.2" cy="575.3" r="8.0" fill="#440154"/><circle cx="1494.0" cy="582.0" r="8.0" fill="#440154"/><circle cx="1410.1" cy="585.1" r="8.0" fill="#440154"/><circle cx="1463.5" cy="594.4" r="8.0" fill="#440154"/><circle cx="1350.9" cy="604.4" r="8.0" fill="#440154"/><circle cx="1363.7" cy="606.5" r="8.0" fill="#440154"/><circle cx="1432.3" cy="595.1" r="8.0" fill="#440154"/><circle cx="1500.2" cy="613.8" r="8.0" fill="#440154"/><circle cx="1491.9" cy="623.5" r="8.0" fill="#440154"/><circle cx="1547.4" cy="625.6" r="8.0" fill="#440154"/><circle cx="1507.2" cy="651.3" r="8.0" fill="#440154"/><circle cx="1507.2" cy="663.1" r="8.0" fill="#440154"/><circle cx="1489.6" cy="668.6" r="8.0" fill="#440154"/><circle cx="1484.0" cy="679.7" r="8.0" fill="#440154"/><circle cx="1460.7" cy="652.0" r="8.0" fill="#440154"/><circle cx="1443.7" cy="641.2" r="8.0" fill="#440154"/><circle cx="1424.3" cy="642.0" r="8.0" fill="#440154"/><circle cx="1402.5" cy="639.5" r="8.0" fill="#440154"/><circle cx="1360.6" cy="638.1" r="8.0" fill="#440154"/><circle cx="1373.0" cy="643.0" r="8.0" fill="#440154"/><circle cx="1425.4" cy="658.9" r="8.0" fill="#440154"/><circle cx="1419.6" cy="671.4" r="8.0" fill="#440154"/><circle cx="1437.5" cy="690.5" r="8.0" fill="#440154"/><circle cx="1502.3" cy="689.8" r="8.0" fill="#440154"/><circle cx="1464.2" cy="726.5" r="8.0" fill="#fde725"/><circle cx="1479.3" cy="733.7" r="8.0" fill="#fde725"/><circle cx="1443.0" cy="751.5" r="8.0" fill="#fde725"/><circle cx="1567.8" cy="749.7" r="8.0" fill="#fde725"/><circle cx="1558.7" cy="770.9" r="8.0" fill="#fde725"/><circle cx="1602.8" cy="719.2" r="8.0" fill="#fde725"/><circle cx="1572.6" cy="731.4" r="8.0" fill="#fde725"/><circle cx="1201.1" cy="721.0" r="8.0" fill="#31688e"/><circle cx="1260.3" cy="695.4" r="8.0" fill="#31688e"/><circle cx="1316.4" cy="698.1" r="8.0" fill="#31688e"/><circle cx="1296.1" cy="719.5" r="8.0" fill="#31688e"/><circle cx="1246.1" cy="733.8" r="8.0" fill="#31688e"/><circle cx="1263.1" cy="735.6" r="8.0" fill="#31688e"/><circle cx="1286.6" cy="733.5" r="8.0" fill="#31688e"/><circle cx="1326.8" cy="737.9" r="8.0" fill="#31688e"/><circle cx="1340.7" cy="733.1" r="8.0" fill="#31688e"/><circle cx="1360.8" cy="742.1" r="8.0" fill="#31688e"/><circle cx="1379.2" cy="753.4" r="8.0" fill="#31688e"/><circle cx="1342.1" cy="752.1" r="8.0" fill="#31688e"/><circle cx="1313.7" cy="762.6" r="8.0" fill="#31688e"/><circle cx="1299.1" cy="753.9" r="8.0" fill="#31688e"/><circle cx="1282.5" cy="755.9" r="8.0" fill="#31688e"/><circle cx="1268.3" cy="766.1" r="8.0" fill="#31688e"/><circle cx="1238.8" cy="760.5" r="8.0" fill="#31688e"/><circle cx="1345.5" cy="767.0" r="8.0" fill="#31688e"/><circle cx="1350.0" cy="785.5" r="8.0" fill="#31688e"/><circle cx="1296.1" cy="837.0" r="8.0" fill="#35b779"/><circle cx="1298.9" cy="869.7" r="8.0" fill="#35b779"/><circle cx="1306.7" cy="892.2" r="8.0" fill="#35b779"/><circle cx="1337.7" cy="835.6" r="8.0" fill="#35b779"/><circle cx="1360.6" cy="829.1" r="8.0" fill="#35b779"/><circle cx="1379.3" cy="830.2" r="8.0" fill="#35b779"/><circle cx="1412.6" cy="894.0" r="8.0" fill="#35b779"/><circle cx="1349.2" cy="904.2" r="8.0" fill="#35b779"/><circle cx="1337.0" cy="870.4" r="8.0" fill="#35b779"/><circle cx="1346.7" cy="861.7" r="8.0" fill="#35b779"/><circle cx="1328.0" cy="854.1" r="8.0" fill="#35b779"/><circle cx="1364.2" cy="865.2" r="8.0" fill="#35b779"/><circle cx="1387.6" cy="870.0" r="8.0" fill="#35b779"/><circle cx="1390.5" cy="884.1" r="8.0" fill="#35b779"/><circle cx="1358.2" cy="884.6" r="8.0" fill="#35b779"/><circle cx="1382.7" cy="615.5" r="8.0" fill="#440154"/><circle cx="1422.6" cy="599.3" r="8.0" fill="#440154"/><circle cx="1406.4" cy="620.8" r="8.0" fill="#440154"/><circle cx="1421.2" cy="624.9" r="8.0" fill="#440154"/><circle cx="1438.3" cy="622.2" r="8.0" fill="#440154"/><circle cx="1458.0" cy="613.2" r="8.0" fill="#440154"/><circle cx="1483.6" cy="614.3" r="8.0" fill="#440154"/><circle cx="1478.7" cy="626.3" r="8.0" fill="#440154"/><circle cx="1512.7" cy="623.3" r="8.0" fill="#440154"/><circle cx="1499.5" cy="642.3" r="8.0" fill="#440154"/><circle cx="1468.3" cy="636.0" r="8.0" fill="#440154"/><circle cx="1482.9" cy="657.5" r="8.0" fill="#440154"/><circle cx="1447.8" cy="652.7" r="8.0" fill="#440154"/><circle cx="1392.5" cy="647.8" r="8.0" fill="#440154"/><circle cx="1406.9" cy="661.0" r="8.0" fill="#440154"/><circle cx="1391.4" cy="668.6" r="8.0" fill="#440154"/><circle cx="1457.0" cy="679.7" r="8.0" fill="#440154"/><circle cx="1446.2" cy="713.8" r="8.0" fill="#fde725"/><circle cx="1489.9" cy="715.4" r="8.0" fill="#fde725"/><circle cx="1507.7" cy="719.6" r="8.0" fill="#fde725"/><circle cx="1504.0" cy="732.4" r="8.0" fill="#fde725"/><circle cx="1496.4" cy="746.6" r="8.0" fill="#fde725"/><circle cx="1509.1" cy="755.6" r="8.0" fill="#fde725"/><circle cx="1531.7" cy="760.8" r="8.0" fill="#fde725"/><circle cx="1528.5" cy="744.8" r="8.0" fill="#fde725"/><circle cx="1547.0" cy="747.3" r="8.0" fill="#fde725"/><circle cx="1595.1" cy="755.4" r="8.0" fill="#fde725"/><circle cx="1610.7" cy="741.4" r="8.0" fill="#fde725"/><circle cx="1594.8" cy="731.4" r="8.0" fill="#fde725"/><circle cx="1587.2" cy="712.3" r="8.0" fill="#fde725"/><circle cx="1562.9" cy="714.5" r="8.0" fill="#fde725"/><circle cx="1565.7" cy="699.5" r="8.0" fill="#fde725"/><circle cx="1528.9" cy="689.1" r="8.0" fill="#fde725"/><circle cx="1539.1" cy="712.3" r="8.0" fill="#fde725"/><circle cx="1542.4" cy="730.7" r="8.0" fill="#fde725"/></g>
<rect x="1180.66" y="58.9" width="453" height="403.1" fill="none" stroke="#000" stroke-width="2.13" stroke-linejoin="miter"/>
<rect x="1180.66" y="543" width="453" height="403" fill="none" stroke="#000" stroke-width="2.13" stroke-linejoin="miter"/>
<line x1="1171.33" y1="462" x2="1180.66" y2="462" stroke="#000" stroke-width="2.13"/><text x="1162.66" y="471.72" text-anchor="end" font-size="26.67">0.0</text>
<line x1="1171.33" y1="393.25" x2="1180.66" y2="393.25" stroke="#000" stroke-width="2.13"/><text x="1162.66" y="402.97" text-anchor="end" font-size="26.67">2.5</text>
<line x1="1171.33" y1="324.5" x2="1180.66" y2="324.5" stroke="#000" stroke-width="2.13"/><text x="1162.66" y="334.22" text-anchor="end" font-size="26.67">5.0</text>
<line x1="1171.33" y1="255.75" x2="1180.66" y2="255.75" stroke="#000" stroke-width="2.13"/><text x="1162.66" y="265.47" text-anchor="end" font-size="26.67">7.5</text>
<line x1="1171.33" y1="187" x2="1180.66" y2="187" stroke="#000" stroke-width="2.13"/><text x="1162.66" y="196.72" text-anchor="end" font-size="26.67">10.0</text>
<line x1="1171.33" y1="118.25" x2="1180.66" y2="118.25" stroke="#000" stroke-width="2.13"/><text x="1162.66" y="127.97" text-anchor="end" font-size="26.67">12.5</text>
<line x1="1171.33" y1="937.8" x2="1180.66" y2="937.8" stroke="#000" stroke-width="2.13"/><text x="1162.66" y="947.52" text-anchor="end" font-size="26.67">−15</text>
<line x1="1171.33" y1="874.47" x2="1180.66" y2="874.47" stroke="#000" stroke-width="2.13"/><text x="1162.66" y="884.19" text-anchor="end" font-size="26.67">−10</text>
<line x1="1171.33" y1="811.13" x2="1180.66" y2="811.13" stroke="#000" stroke-width="2.13"/><text x="1162.66" y="820.86" text-anchor="end" font-size="26.67">−5</text>
<line x1="1171.33" y1="747.8" x2="1180.66" y2="747.8" stroke="#000" stroke-width="2.13"/><text x="1162.66" y="757.52" text-anchor="end" font-size="26.67">0</text>
<line x1="1171.33" y1="684.46" x2="1180.66" y2="684.46" stroke="#000" stroke-width="2.13"/><text x="1162.66" y="694.18" text-anchor="end" font-size="26.67">5</text>
<line x1="1171.33" y1="621.13" x2="1180.66" y2="621.13" stroke="#000" stroke-width="2.13"/><text x="1162.66" y="630.85" text-anchor="end" font-size="26.67">10</text>
<line x1="1171.33" y1="557.79" x2="1180.66" y2="557.79" stroke="#000" stroke-width="2.13"/><text x="1162.66" y="567.51" text-anchor="end" font-size="26.67">15</text>
<line x1="1270.66" y1="946" x2="1270.66" y2="955.33" stroke="#000" stroke-width="2.13"/><text x="1270.66" y="985.67" text-anchor="middle" font-size="26.67">−10</text>
<line x1="1385.16" y1="946" x2="1385.16" y2="955.33" stroke="#000" stroke-width="2.13"/><text x="1385.16" y="985.67" text-anchor="middle" font-size="26.67">−5</text>
<line x1="1499.66" y1="946" x2="1499.66" y2="955.33" stroke="#000" stroke-width="2.13"/><text x="1499.66" y="985.67" text-anchor="middle" font-size="26.67">0</text>
<line x1="1614.16" y1="946" x2="1614.16" y2="955.33" stroke="#000" stroke-width="2.13"/><text x="1614.16" y="985.67" text-anchor="middle" font-size="26.67">5</text>
<text x="1407.16" y="42.9" text-anchor="middle" font-size="32.0">Average Linkge</text>
<text x="1407.16" y="527" text-anchor="middle" font-size="32.0">K = 4</text>
<g clip-path="url(#ct3)" fill="none" stroke-width="4.0" stroke-linejoin="round" stroke-linecap="butt"><path stroke="#ff7f0e" d="M1776 420V280H1878V414M1745 437V420H1806V430M1734 450V437H1757V447M1729 457V450H1738V457M1725 462V462H1726V462M1728 462V461H1729V462M1727 462V461H1729V461M1725 462V459H1728V461M1730 462V461H1731V462M1734 462V461H1735V462M1733 462V460H1734V461M1731 461V459H1733V460M1727 459V457H1732V459M1736 462V461H1737V462M1738 462V460H1739V462M1736 461V457H1739V460M1749 455V447H1765V450M1744 457V455H1754V457M1742 462V462H1743V462M1741 462V461H1743V462M1740 462V461H1742V461M1744 462V462H1746V462M1747 462V461H1748V462M1745 462V459H1747V461M1741 461V457H1746V459M1749 462V461H1750V462M1753 462V462H1754V462M1752 462V461H1753V462M1750 461V460H1753V461M1756 462V461H1757V462M1755 462V460H1757V461M1751 460V457H1756V460M1760 457V450H1770V457M1761 462V461H1762V462M1760 462V460H1761V461M1758 462V457H1761V460M1763 462V461H1764V462M1765 462V462H1767V462M1769 462V462H1770V462M1768 462V461H1770V462M1766 462V461H1769V461M1763 461V460H1767V461M1771 462V461H1772V462M1773 462V462H1775V462M1776 462V461H1777V462M1774 462V461H1776V461M1772 461V459H1775V461M1765 460V457H1773V459M1790 451V430H1822V445M1782 456V451H1798V455M1780 457V456H1785V457M1778 462V460H1780V462M1781 462V459H1782V462M1779 460V457H1781V459M1783 462V462H1784V462M1787 462V461H1788V462M1786 462V461H1787V461M1785 462V460H1787V461M1783 462V457H1786V460M1794 457V455H1802V457M1789 462V462H1790V462M1791 462V461H1792V462M1793 462V460H1795V462M1792 461V460H1794V460M1789 462V459H1793V460M1797 462V461H1798V462M1796 462V458H1797V461M1791 459V457H1797V458M1800 462V461H1802V462M1799 462V460H1801V461M1805 462V461H1806V462M1804 462V460H1805V461M1803 462V458H1804V460M1800 460V457H1804V458M1815 455V445H1829V455M1809 462V462H1810V462M1808 462V461H1810V462M1807 462V461H1809V461M1812 462V461H1813V462M1815 462V462H1816V462M1814 462V461H1816V462M1812 461V460H1815V461M1808 461V458H1813V460M1817 462V460H1818V462M1822 462V462H1823V462M1821 462V461H1822V462M1820 462V460H1822V461M1818 460V458H1821V460M1811 458V455H1819V458M1827 457V455H1831V457M1825 462V461H1826V462M1824 462V460H1826V461M1828 462V460H1829V462M1825 460V457H1828V460M1832 462V460H1833V462M1830 462V457H1832V460M1851 434V414H1906V425M1841 451V434H1860V446M1837 457V451H1846V457M1836 462V461H1837V462M1835 462V461H1836V461M1834 462V461H1836V461M1838 462V462H1839V462M1840 462V461H1841V462M1839 462V461H1841V461M1835 461V457H1840V461M1845 462V461H1846V462M1844 462V460H1845V461M1842 462V460H1845V460M1847 462V460H1848V462M1843 460V457H1848V460M1853 456V446H1868V450M1852 462V462H1853V462M1850 462V461H1852V462M1849 462V460H1851V461M1854 462V461H1855V462M1856 462V460H1857V462M1854 461V458H1857V460M1850 460V456H1856V458M1864 457V450H1872V457M1859 462V462H1860V462M1861 462V462H1862V462M1863 462V462H1864V462M1861 462V461H1864V462M1859 462V461H1863V461M1867 462V461H1868V462M1866 462V460H1868V461M1865 462V459H1867V460M1861 461V457H1866V459M1871 462V461H1872V462M1869 462V460H1871V461M1874 462V461H1875V462M1873 462V458H1875V461M1870 460V457H1874V458M1891 452V425H1921V442M1882 457V452H1899V457M1877 462V462H1879V462M1876 462V461H1878V462M1881 462V461H1882V462M1880 462V461H1881V461M1877 461V460H1881V461M1885 462V462H1887V462M1884 462V462H1886V462M1883 462V461H1885V462M1888 462V460H1889V462M1884 461V459H1888V460M1879 460V457H1886V459M1890 462V462H1891V462M1892 462V461H1894V462M1896 462V462H1897V462M1895 462V461H1897V462M1899 462V462H1901V462M1898 462V461H1900V462M1896 461V461H1899V461M1893 461V460H1897V461M1891 462V459H1895V460M1902 462V462H1903V462M1904 462V461H1905V462M1902 462V461H1904V461M1907 462V461H1908V462M1906 462V460H1908V461M1903 461V458H1907V460M1893 459V457H1905V458M1915 455V442H1926V447M1909 462V461H1910V462M1912 462V461H1913V462M1910 461V460H1912V461M1914 462V459H1915V462M1911 460V458H1914V459M1916 462V462H1917V462M1918 462V461H1920V462M1917 462V457H1919V461M1913 458V455H1918V457M1921 456V447H1932V451M1926 457V451H1938V456M1923 462V462H1924V462M1926 462V461H1927V462M1924 462V461H1926V461M1922 462V460H1925V461M1930 462V461H1931V462M1929 462V460H1931V461M1928 462V459H1930V460M1924 460V457H1929V459M1934 457V456H1942V457M1932 462V460H1934V462M1935 462V460H1935V462M1933 460V457H1935V460M1939 462V462H1940V462M1938 462V461H1939V462M1936 462V461H1938V461M1942 462V462H1943V462M1941 462V461H1943V462M1947 462V462H1948V462M1946 462V461H1947V462M1944 462V461H1946V461M1942 461V460H1945V461M1949 462V460H1950V462M1944 460V459H1949V460M1937 461V457H1947V459"/><path stroke="#2ca02c" d="M2000 422V238H2114V419M1967 437V422H2033V430M1955 450V437H1980V440M1952 457V450H1958V457M1951 462V461H1952V462M1953 462V460H1954V462M1951 461V457H1953V460M1956 462V462H1958V462M1955 462V461H1957V462M1959 462V462H1960V462M1961 462V461H1962V462M1959 462V460H1961V461M1956 461V457H1960V460M1967 456V440H1992V450M1963 462V462H1964V462M1966 462V462H1967V462M1965 462V461H1967V462M1963 462V460H1966V461M1969 462V460H1970V462M1971 462V460H1972V462M1969 460V458H1971V460M1965 460V456H1970V458M1982 455V450H2001V452M1977 457V455H1986V457M1974 462V462H1975V462M1973 462V461H1975V462M1976 462V461H1977V462M1974 461V460H1977V461M1981 462V462H1982V462M1980 462V461H1981V462M1979 462V459H1981V461M1975 460V457H1980V459M1984 462V460H1986V462M1983 462V459H1985V460M1987 462V458H1988V462M1984 459V457H1988V458M1995 457V452H2008V457M1993 462V462H1994V462M1992 462V462H1993V462M1990 462V461H1993V462M1989 462V459H1991V461M1996 462V462H1997V462M1995 462V461H1997V462M1999 462V462H2001V462M1998 462V461H2000V462M1996 461V460H1999V461M2002 462V460H2003V462M1998 460V458H2002V460M1990 459V457H2000V458M2004 462V462H2005V462M2006 462V462H2008V462M2005 462V461H2007V462M2009 462V461H2009V462M2006 461V457H2009V461M2019 451V430H2048V444M2012 462V461H2013V462M2010 462V460H2012V461M2016 462V462H2017V462M2015 462V461H2017V462M2018 462V461H2020V462M2016 461V460H2019V461M2014 462V459H2017V460M2011 460V458H2016V459M2024 462V462H2025V462M2023 462V461H2024V462M2022 462V461H2024V461M2021 462V459H2023V461M2028 462V461H2029V462M2027 462V460H2029V461M2026 462V459H2028V460M2022 459V455H2027V459M2013 458V451H2024V455M2039 456V444H2057V452M2033 462V462H2034V462M2032 462V461H2033V462M2030 462V461H2032V461M2038 462V462H2040V462M2037 462V462H2039V462M2036 462V461H2038V462M2035 462V460H2037V461M2031 461V459H2036V460M2042 462V461H2043V462M2041 462V460H2042V461M2045 462V461H2046V462M2044 462V460H2046V461M2042 460V458H2045V460M2034 459V456H2043V458M2053 457V452H2062V457M2048 462V461H2049V462M2052 462V462H2053V462M2051 462V461H2053V462M2050 462V461H2052V461M2048 461V460H2051V461M2054 462V461H2056V462M2057 462V460H2058V462M2055 461V459H2057V460M2049 460V457H2056V459M2059 462V461H2060V462M2061 462V461H2062V462M2059 461V460H2061V461M2063 462V460H2064V462M2060 460V457H2064V460M2086 435V419H2141V429M2074 452V435H2099V448M2068 457V452H2079V457M2065 462V459H2067V462M2069 462V461H2070V462M2068 462V459H2070V461M2066 459V457H2069V459M2074 462V462H2075V462M2073 462V462H2074V462M2071 462V461H2073V462M2079 462V462H2080V462M2078 462V461H2080V462M2077 462V461H2079V461M2076 462V460H2078V461M2072 461V460H2077V460M2083 462V462H2084V462M2081 462V461H2083V462M2087 462V462H2088V462M2086 462V462H2088V462M2085 462V461H2087V462M2082 461V459H2086V461M2075 460V457H2084V459M2094 455V448H2104V454M2089 462V461H2090V462M2093 462V461H2094V462M2092 462V459H2094V461M2090 461V458H2093V459M2095 462V455H2096V462M2091 458V455H2096V455M2098 457V454H2109V457M2100 462V462H2101V462M2099 462V461H2101V462M2098 462V459H2100V461M2097 462V457H2099V459M2102 462V461H2104V462M2105 462V461H2106V462M2103 461V460H2105V461M2108 462V461H2110V462M2107 462V460H2109V461M2104 460V459H2108V460M2111 462V462H2112V462M2114 462V462H2115V462M2113 462V460H2114V462M2111 462V459H2114V460M2106 459V457H2112V459M2121 445V429H2161V444M2117 455V445H2125V455M2118 462V459H2119V462M2116 462V455H2118V459M2120 462V461H2121V462M2125 462V462H2126V462M2124 462V461H2125V462M2122 462V461H2125V461M2121 461V459H2124V461M2128 462V461H2129V462M2130 462V461H2131V462M2129 461V459H2131V461M2127 462V458H2130V459M2122 459V455H2128V458M2149 450V444H2172V449M2140 456V450H2159V454M2133 462V462H2134V462M2135 462V461H2136V462M2133 462V460H2135V461M2138 462V461H2139V462M2137 462V460H2139V461M2134 460V459H2138V460M2140 462V462H2142V462M2144 462V462H2145V462M2143 462V461H2145V462M2141 462V460H2144V461M2146 462V460H2147V462M2142 460V459H2147V460M2136 459V456H2145V459M2154 457V454H2163V457M2150 462V462H2151V462M2149 462V461H2150V462M2154 462V462H2155V462M2153 462V462H2155V462M2152 462V461H2154V462M2149 461V460H2153V461M2159 462V461H2160V462M2158 462V461H2159V461M2156 462V458H2159V461M2151 460V457H2157V458M2162 462V462H2163V462M2161 462V461H2163V462M2164 462V460H2165V462M2162 461V457H2165V460M2166 462V459H2167V462M2169 462V461H2170V462M2171 462V460H2172V462M2169 461V458H2172V460M2167 459V456H2170V458M2173 462V460H2174V462M2175 462V459H2176V462M2174 460V454H2176V459M2169 456V449H2175V454"/><path stroke="#1f77b4" d="M1827 280V78H2057V238"/></g>
<g clip-path="url(#cb3)" stroke="#fff" stroke-width="1.28"><circle cx="1749.6" cy="725.4" r="8.0" fill="#440154"/><circle cx="1813.7" cy="688.7" r="8.0" fill="#440154"/><circle cx="1809.9" cy="706.3" r="8.0" fill="#440154"/><circle cx="1869.7" cy="692.5" r="8.0" fill="#440154"/><circle cx="1850.7" cy="712.3" r="8.0" fill="#440154"/><circle cx="1867.4" cy="717.8" r="8.0" fill="#440154"/><circle cx="1799.9" cy="719.9" r="8.0" fill="#440154"/><circle cx="1790.4" cy="728.2" r="8.0" fill="#440154"/><circle cx="1782.8" cy="743.2" r="8.0" fill="#440154"/><circle cx="1887.5" cy="726.8" r="8.0" fill="#440154"/><circle cx="1914.5" cy="737.0" r="8.0" fill="#440154"/><circle cx="1931.1" cy="743.5" r="8.0" fill="#440154"/><circle cx="1912.4" cy="754.3" r="8.0" fill="#440154"/><circle cx="1863.2" cy="766.3" r="8.0" fill="#440154"/><circle cx="1807.1" cy="754.8" r="8.0" fill="#440154"/><circle cx="1791.8" cy="761.8" r="8.0" fill="#440154"/><circle cx="1823.0" cy="776.7" r="8.0" fill="#440154"/><circle cx="1827.9" cy="782.3" r="8.0" fill="#440154"/><circle cx="1838.0" cy="773.3" r="8.0" fill="#440154"/><circle cx="1848.0" cy="765.6" r="8.0" fill="#440154"/><circle cx="1878.5" cy="769.8" r="8.0" fill="#440154"/><circle cx="1877.8" cy="778.8" r="8.0" fill="#440154"/><circle cx="1893.0" cy="781.6" r="8.0" fill="#440154"/><circle cx="1818.9" cy="725.4" r="8.0" fill="#440154"/><circle cx="1820.3" cy="728.2" r="8.0" fill="#440154"/><circle cx="1818.2" cy="736.5" r="8.0" fill="#440154"/><circle cx="1814.7" cy="751.8" r="8.0" fill="#440154"/><circle cx="1827.2" cy="742.1" r="8.0" fill="#440154"/><circle cx="1856.3" cy="736.5" r="8.0" fill="#440154"/><circle cx="1859.1" cy="747.6" r="8.0" fill="#440154"/><circle cx="1889.6" cy="746.9" r="8.0" fill="#440154"/><circle cx="1872.9" cy="758.7" r="8.0" fill="#440154"/><circle cx="1850.7" cy="726.8" r="8.0" fill="#440154"/><circle cx="1834.1" cy="715.7" r="8.0" fill="#440154"/><circle cx="1809.2" cy="744.9" r="8.0" fill="#440154"/><circle cx="1850.7" cy="753.2" r="8.0" fill="#440154"/><circle cx="1881.2" cy="742.1" r="8.0" fill="#440154"/><circle cx="1834.1" cy="750.4" r="8.0" fill="#440154"/><circle cx="1803.6" cy="761.5" r="8.0" fill="#440154"/><circle cx="1823.0" cy="747.6" r="8.0" fill="#440154"/><circle cx="1867.4" cy="744.9" r="8.0" fill="#440154"/><circle cx="1817.5" cy="758.7" r="8.0" fill="#440154"/><circle cx="1841.0" cy="735.2" r="8.0" fill="#440154"/><circle cx="1833.0" cy="840.2" r="8.0" fill="#21918c"/><circle cx="1835.7" cy="864.5" r="8.0" fill="#21918c"/><circle cx="1830.2" cy="895.0" r="8.0" fill="#21918c"/><circle cx="1844.7" cy="894.3" r="8.0" fill="#21918c"/><circle cx="1856.5" cy="884.6" r="8.0" fill="#21918c"/><circle cx="1864.8" cy="880.4" r="8.0" fill="#21918c"/><circle cx="1875.2" cy="834.7" r="8.0" fill="#21918c"/><circle cx="1887.0" cy="834.7" r="8.0" fill="#21918c"/><circle cx="1894.9" cy="829.8" r="8.0" fill="#21918c"/><circle cx="1908.5" cy="838.8" r="8.0" fill="#21918c"/><circle cx="1931.7" cy="828.8" r="8.0" fill="#21918c"/><circle cx="1925.1" cy="836.0" r="8.0" fill="#21918c"/><circle cx="1946.6" cy="890.1" r="8.0" fill="#21918c"/><circle cx="1942.5" cy="892.9" r="8.0" fill="#21918c"/><circle cx="1887.0" cy="896.3" r="8.0" fill="#21918c"/><circle cx="1875.5" cy="888.7" r="8.0" fill="#21918c"/><circle cx="1882.2" cy="849.2" r="8.0" fill="#21918c"/><circle cx="1921.0" cy="854.1" r="8.0" fill="#21918c"/><circle cx="1939.0" cy="855.4" r="8.0" fill="#21918c"/><circle cx="1940.4" cy="875.5" r="8.0" fill="#21918c"/><circle cx="1930.7" cy="897.7" r="8.0" fill="#21918c"/><circle cx="1919.6" cy="883.9" r="8.0" fill="#21918c"/><circle cx="1912.9" cy="892.9" r="8.0" fill="#21918c"/><circle cx="1894.0" cy="877.6" r="8.0" fill="#21918c"/><circle cx="1917.5" cy="872.1" r="8.0" fill="#21918c"/><circle cx="1894.0" cy="867.9" r="8.0" fill="#21918c"/><circle cx="1928.6" cy="863.8" r="8.0" fill="#21918c"/><circle cx="1887.0" cy="841.6" r="8.0" fill="#21918c"/><circle cx="1912.0" cy="877.6" r="8.0" fill="#21918c"/><circle cx="1903.7" cy="874.9" r="8.0" fill="#21918c"/><circle cx="1923.1" cy="877.6" r="8.0" fill="#21918c"/><circle cx="1859.3" cy="874.9" r="8.0" fill="#21918c"/><circle cx="1851.0" cy="877.6" r="8.0" fill="#21918c"/><circle cx="1887.0" cy="885.9" r="8.0" fill="#21918c"/><circle cx="1936.9" cy="891.5" r="8.0" fill="#21918c"/><circle cx="1898.1" cy="858.2" r="8.0" fill="#21918c"/><circle cx="1909.2" cy="855.4" r="8.0" fill="#21918c"/><circle cx="1925.8" cy="883.2" r="8.0" fill="#21918c"/><circle cx="1871.8" cy="877.6" r="8.0" fill="#21918c"/><circle cx="1863.5" cy="861.0" r="8.0" fill="#21918c"/><circle cx="1885.6" cy="873.5" r="8.0" fill="#21918c"/><circle cx="1932.2" cy="604.6" r="8.0" fill="#5ec962"/><circle cx="1984.6" cy="597.2" r="8.0" fill="#5ec962"/><circle cx="1984.0" cy="603.4" r="8.0" fill="#5ec962"/><circle cx="1968.7" cy="604.8" r="8.0" fill="#5ec962"/><circle cx="1945.1" cy="612.9" r="8.0" fill="#5ec962"/><circle cx="1964.5" cy="618.0" r="8.0" fill="#5ec962"/><circle cx="1974.9" cy="614.5" r="8.0" fill="#5ec962"/><circle cx="1985.3" cy="615.9" r="8.0" fill="#5ec962"/><circle cx="1986.7" cy="624.2" r="8.0" fill="#5ec962"/><circle cx="1999.2" cy="622.9" r="8.0" fill="#5ec962"/><circle cx="2024.2" cy="608.3" r="8.0" fill="#5ec962"/><circle cx="2040.1" cy="606.9" r="8.0" fill="#5ec962"/><circle cx="2015.8" cy="621.5" r="8.0" fill="#5ec962"/><circle cx="2058.8" cy="624.0" r="8.0" fill="#5ec962"/><circle cx="2061.6" cy="639.5" r="8.0" fill="#5ec962"/><circle cx="2049.1" cy="635.3" r="8.0" fill="#5ec962"/><circle cx="2042.2" cy="637.4" r="8.0" fill="#5ec962"/><circle cx="2026.2" cy="638.1" r="8.0" fill="#5ec962"/><circle cx="2007.5" cy="634.6" r="8.0" fill="#5ec962"/><circle cx="2015.1" cy="643.0" r="8.0" fill="#5ec962"/><circle cx="2035.2" cy="652.0" r="8.0" fill="#fde725"/><circle cx="2045.6" cy="667.2" r="8.0" fill="#fde725"/><circle cx="2017.2" cy="661.0" r="8.0" fill="#fde725"/><circle cx="2004.7" cy="657.5" r="8.0" fill="#fde725"/><circle cx="1987.4" cy="657.5" r="8.0" fill="#fde725"/><circle cx="1993.0" cy="643.0" r="8.0" fill="#fde725"/><circle cx="1939.6" cy="638.1" r="8.0" fill="#fde725"/><circle cx="1947.9" cy="631.2" r="8.0" fill="#fde725"/><circle cx="1925.0" cy="647.8" r="8.0" fill="#fde725"/><circle cx="1939.6" cy="658.2" r="8.0" fill="#fde725"/><circle cx="1935.4" cy="672.1" r="8.0" fill="#fde725"/><circle cx="1974.3" cy="665.8" r="8.0" fill="#fde725"/><circle cx="1992.3" cy="674.8" r="8.0" fill="#fde725"/><circle cx="1977.0" cy="609.0" r="8.0" fill="#5ec962"/><circle cx="1979.8" cy="617.3" r="8.0" fill="#5ec962"/><circle cx="2018.6" cy="614.5" r="8.0" fill="#5ec962"/><circle cx="2032.5" cy="617.3" r="8.0" fill="#5ec962"/><circle cx="2029.7" cy="631.2" r="8.0" fill="#5ec962"/><circle cx="2038.0" cy="645.0" r="8.0" fill="#5ec962"/><circle cx="2018.6" cy="631.2" r="8.0" fill="#5ec962"/><circle cx="1974.3" cy="620.1" r="8.0" fill="#5ec962"/><circle cx="2039.4" cy="658.9" r="8.0" fill="#fde725"/><circle cx="1957.6" cy="620.1" r="8.0" fill="#5ec962"/><circle cx="2046.3" cy="631.2" r="8.0" fill="#5ec962"/><circle cx="2032.5" cy="609.0" r="8.0" fill="#5ec962"/><circle cx="2010.3" cy="625.6" r="8.0" fill="#5ec962"/><circle cx="1992.6" cy="718.2" r="8.0" fill="#3b528b"/><circle cx="2026.1" cy="706.4" r="8.0" fill="#3b528b"/><circle cx="2039.0" cy="712.0" r="8.0" fill="#3b528b"/><circle cx="2050.1" cy="709.2" r="8.0" fill="#3b528b"/><circle cx="2038.3" cy="721.0" r="8.0" fill="#3b528b"/><circle cx="2039.7" cy="735.5" r="8.0" fill="#3b528b"/><circle cx="2052.2" cy="736.9" r="8.0" fill="#3b528b"/><circle cx="2031.4" cy="750.1" r="8.0" fill="#3b528b"/><circle cx="2055.6" cy="746.6" r="8.0" fill="#3b528b"/><circle cx="2054.3" cy="759.8" r="8.0" fill="#3b528b"/><circle cx="2068.1" cy="761.9" r="8.0" fill="#3b528b"/><circle cx="2077.8" cy="765.4" r="8.0" fill="#3b528b"/><circle cx="2079.2" cy="755.0" r="8.0" fill="#3b528b"/><circle cx="2095.1" cy="741.8" r="8.0" fill="#3b528b"/><circle cx="2131.9" cy="755.6" r="8.0" fill="#3b528b"/><circle cx="2148.5" cy="761.2" r="8.0" fill="#3b528b"/><circle cx="2144.4" cy="766.7" r="8.0" fill="#3b528b"/><circle cx="2149.9" cy="742.5" r="8.0" fill="#3b528b"/><circle cx="2156.1" cy="734.9" r="8.0" fill="#3b528b"/><circle cx="2129.8" cy="733.5" r="8.0" fill="#3b528b"/><circle cx="2111.1" cy="732.8" r="8.0" fill="#3b528b"/><circle cx="2135.3" cy="702.3" r="8.0" fill="#3b528b"/><circle cx="2138.1" cy="699.5" r="8.0" fill="#3b528b"/><circle cx="2125.6" cy="707.1" r="8.0" fill="#3b528b"/><circle cx="2112.5" cy="698.1" r="8.0" fill="#3b528b"/><circle cx="2099.3" cy="691.2" r="8.0" fill="#3b528b"/><circle cx="2087.5" cy="684.3" r="8.0" fill="#3b528b"/><circle cx="2079.2" cy="696.7" r="8.0" fill="#3b528b"/><circle cx="2092.4" cy="700.2" r="8.0" fill="#3b528b"/><circle cx="2099.3" cy="708.5" r="8.0" fill="#3b528b"/><circle cx="2068.8" cy="712.4" r="8.0" fill="#3b528b"/><circle cx="2092.4" cy="714.1" r="8.0" fill="#3b528b"/><circle cx="2079.2" cy="725.2" r="8.0" fill="#3b528b"/><circle cx="2096.5" cy="730.7" r="8.0" fill="#3b528b"/><circle cx="2076.4" cy="732.8" r="8.0" fill="#3b528b"/><circle cx="2120.8" cy="718.2" r="8.0" fill="#3b528b"/><circle cx="2131.9" cy="723.8" r="8.0" fill="#3b528b"/><circle cx="2059.8" cy="718.2" r="8.0" fill="#3b528b"/><circle cx="2109.7" cy="722.4" r="8.0" fill="#3b528b"/><circle cx="2093.1" cy="737.6" r="8.0" fill="#3b528b"/><circle cx="2145.7" cy="725.2" r="8.0" fill="#3b528b"/><circle cx="2084.7" cy="701.6" r="8.0" fill="#3b528b"/><circle cx="2098.6" cy="721.0" r="8.0" fill="#3b528b"/><circle cx="2119.4" cy="709.9" r="8.0" fill="#3b528b"/><circle cx="2084.7" cy="740.4" r="8.0" fill="#3b528b"/><circle cx="2123.6" cy="726.5" r="8.0" fill="#3b528b"/><circle cx="2140.2" cy="715.4" r="8.0" fill="#3b528b"/><circle cx="2105.5" cy="705.7" r="8.0" fill="#3b528b"/><circle cx="2045.9" cy="726.5" r="8.0" fill="#3b528b"/><circle cx="2116.6" cy="705.7" r="8.0" fill="#3b528b"/><circle cx="2088.9" cy="722.4" r="8.0" fill="#3b528b"/><circle cx="1756.5" cy="741.1" r="8.0" fill="#440154"/><circle cx="1751.4" cy="753.6" r="8.0" fill="#440154"/><circle cx="1761.6" cy="763.3" r="8.0" fill="#440154"/><circle cx="1754.4" cy="786.9" r="8.0" fill="#440154"/><circle cx="1822.6" cy="710.9" r="8.0" fill="#440154"/><circle cx="1906.6" cy="694.0" r="8.0" fill="#440154"/><circle cx="1777.0" cy="727.1" r="8.0" fill="#440154"/><circle cx="1802.9" cy="729.6" r="8.0" fill="#440154"/><circle cx="1845.9" cy="728.2" r="8.0" fill="#440154"/><circle cx="1866.0" cy="729.6" r="8.0" fill="#440154"/><circle cx="1930.9" cy="747.6" r="8.0" fill="#440154"/><circle cx="1876.4" cy="751.8" r="8.0" fill="#440154"/><circle cx="1864.6" cy="753.9" r="8.0" fill="#440154"/><circle cx="1843.1" cy="744.2" r="8.0" fill="#440154"/><circle cx="1790.0" cy="776.7" r="8.0" fill="#440154"/><circle cx="1827.2" cy="765.6" r="8.0" fill="#440154"/><circle cx="1826.9" cy="772.6" r="8.0" fill="#440154"/><circle cx="1834.6" cy="817.7" r="8.0" fill="#21918c"/><circle cx="1815.4" cy="850.3" r="8.0" fill="#21918c"/><circle cx="1835.0" cy="848.5" r="8.0" fill="#21918c"/><circle cx="1850.7" cy="851.7" r="8.0" fill="#21918c"/><circle cx="1851.7" cy="866.3" r="8.0" fill="#21918c"/><circle cx="1831.6" cy="883.6" r="8.0" fill="#21918c"/><circle cx="1829.8" cy="906.7" r="8.0" fill="#21918c"/><circle cx="1845.4" cy="884.6" r="8.0" fill="#21918c"/><circle cx="1868.3" cy="870.7" r="8.0" fill="#21918c"/><circle cx="1868.3" cy="910.9" r="8.0" fill="#21918c"/><circle cx="1877.6" cy="927.5" r="8.0" fill="#21918c"/><circle cx="1958.0" cy="834.0" r="8.0" fill="#21918c"/><circle cx="1950.1" cy="847.1" r="8.0" fill="#21918c"/><circle cx="1962.6" cy="861.0" r="8.0" fill="#21918c"/><circle cx="1966.0" cy="875.8" r="8.0" fill="#21918c"/><circle cx="1984.1" cy="870.0" r="8.0" fill="#21918c"/><circle cx="1982.3" cy="887.7" r="8.0" fill="#21918c"/><circle cx="1973.2" cy="913.4" r="8.0" fill="#21918c"/><circle cx="1923.8" cy="909.8" r="8.0" fill="#21918c"/><circle cx="1881.5" cy="881.1" r="8.0" fill="#21918c"/><circle cx="1899.5" cy="849.2" r="8.0" fill="#21918c"/><circle cx="1917.5" cy="861.0" r="8.0" fill="#21918c"/><circle cx="1940.8" cy="859.6" r="8.0" fill="#21918c"/><circle cx="1926.5" cy="890.8" r="8.0" fill="#21918c"/><circle cx="2014.5" cy="561.2" r="8.0" fill="#5ec962"/><circle cx="2013.5" cy="575.3" r="8.0" fill="#5ec962"/><circle cx="2037.3" cy="582.0" r="8.0" fill="#5ec962"/><circle cx="1953.5" cy="585.1" r="8.0" fill="#5ec962"/><circle cx="2006.8" cy="594.4" r="8.0" fill="#5ec962"/><circle cx="1894.3" cy="604.4" r="8.0" fill="#5ec962"/><circle cx="1907.0" cy="606.5" r="8.0" fill="#5ec962"/><circle cx="1975.6" cy="595.1" r="8.0" fill="#5ec962"/><circle cx="2043.6" cy="613.8" r="8.0" fill="#5ec962"/><circle cx="2035.2" cy="623.5" r="8.0" fill="#5ec962"/><circle cx="2090.7" cy="625.6" r="8.0" fill="#5ec962"/><circle cx="2050.5" cy="651.3" r="8.0" fill="#fde725"/><circle cx="2050.5" cy="663.1" r="8.0" fill="#fde725"/><circle cx="2032.9" cy="668.6" r="8.0" fill="#fde725"/><circle cx="2027.3" cy="679.7" r="8.0" fill="#fde725"/><circle cx="2004.1" cy="652.0" r="8.0" fill="#fde725"/><circle cx="1987.0" cy="641.2" r="8.0" fill="#fde725"/><circle cx="1967.6" cy="642.0" r="8.0" fill="#fde725"/><circle cx="1945.8" cy="639.5" r="8.0" fill="#fde725"/><circle cx="1904.0" cy="638.1" r="8.0" fill="#fde725"/><circle cx="1916.3" cy="643.0" r="8.0" fill="#fde725"/><circle cx="1968.7" cy="658.9" r="8.0" fill="#fde725"/><circle cx="1962.9" cy="671.4" r="8.0" fill="#fde725"/><circle cx="1980.8" cy="690.5" r="8.0" fill="#fde725"/><circle cx="2045.7" cy="689.8" r="8.0" fill="#fde725"/><circle cx="2007.5" cy="726.5" r="8.0" fill="#3b528b"/><circle cx="2022.6" cy="733.7" r="8.0" fill="#3b528b"/><circle cx="1986.3" cy="751.5" r="8.0" fill="#3b528b"/><circle cx="2111.1" cy="749.7" r="8.0" fill="#3b528b"/><circle cx="2102.1" cy="770.9" r="8.0" fill="#3b528b"/><circle cx="2146.2" cy="719.2" r="8.0" fill="#3b528b"/><circle cx="2115.9" cy="731.4" r="8.0" fill="#3b528b"/><circle cx="1744.4" cy="721.0" r="8.0" fill="#440154"/><circle cx="1803.6" cy="695.4" r="8.0" fill="#440154"/><circle cx="1859.8" cy="698.1" r="8.0" fill="#440154"/><circle cx="1839.4" cy="719.5" r="8.0" fill="#440154"/><circle cx="1789.5" cy="733.8" r="8.0" fill="#440154"/><circle cx="1806.4" cy="735.6" r="8.0" fill="#440154"/><circle cx="1830.0" cy="733.5" r="8.0" fill="#440154"/><circle cx="1870.2" cy="737.9" r="8.0" fill="#440154"/><circle cx="1884.0" cy="733.1" r="8.0" fill="#440154"/><circle cx="1904.1" cy="742.1" r="8.0" fill="#440154"/><circle cx="1922.6" cy="753.4" r="8.0" fill="#440154"/><circle cx="1885.4" cy="752.1" r="8.0" fill="#440154"/><circle cx="1857.0" cy="762.6" r="8.0" fill="#440154"/><circle cx="1842.4" cy="753.9" r="8.0" fill="#440154"/><circle cx="1825.8" cy="755.9" r="8.0" fill="#440154"/><circle cx="1811.7" cy="766.1" r="8.0" fill="#440154"/><circle cx="1782.1" cy="760.5" r="8.0" fill="#440154"/><circle cx="1888.9" cy="767.0" r="8.0" fill="#440154"/><circle cx="1893.3" cy="785.5" r="8.0" fill="#440154"/><circle cx="1839.5" cy="837.0" r="8.0" fill="#21918c"/><circle cx="1842.2" cy="869.7" r="8.0" fill="#21918c"/><circle cx="1850.0" cy="892.2" r="8.0" fill="#21918c"/><circle cx="1881.1" cy="835.6" r="8.0" fill="#21918c"/><circle cx="1903.9" cy="829.1" r="8.0" fill="#21918c"/><circle cx="1922.6" cy="830.2" r="8.0" fill="#21918c"/><circle cx="1955.9" cy="894.0" r="8.0" fill="#21918c"/><circle cx="1892.6" cy="904.2" r="8.0" fill="#21918c"/><circle cx="1880.4" cy="870.4" r="8.0" fill="#21918c"/><circle cx="1890.1" cy="861.7" r="8.0" fill="#21918c"/><circle cx="1871.4" cy="854.1" r="8.0" fill="#21918c"/><circle cx="1907.5" cy="865.2" r="8.0" fill="#21918c"/><circle cx="1931.0" cy="870.0" r="8.0" fill="#21918c"/><circle cx="1933.9" cy="884.1" r="8.0" fill="#21918c"/><circle cx="1901.6" cy="884.6" r="8.0" fill="#21918c"/><circle cx="1926.0" cy="615.5" r="8.0" fill="#5ec962"/><circle cx="1965.9" cy="599.3" r="8.0" fill="#5ec962"/><circle cx="1949.7" cy="620.8" r="8.0" fill="#5ec962"/><circle cx="1964.5" cy="624.9" r="8.0" fill="#5ec962"/><circle cx="1981.6" cy="622.2" r="8.0" fill="#5ec962"/><circle cx="2001.3" cy="613.2" r="8.0" fill="#5ec962"/><circle cx="2026.9" cy="614.3" r="8.0" fill="#5ec962"/><circle cx="2022.1" cy="626.3" r="8.0" fill="#5ec962"/><circle cx="2056.0" cy="623.3" r="8.0" fill="#5ec962"/><circle cx="2042.9" cy="642.3" r="8.0" fill="#5ec962"/><circle cx="2011.7" cy="636.0" r="8.0" fill="#5ec962"/><circle cx="2026.2" cy="657.5" r="8.0" fill="#fde725"/><circle cx="1991.2" cy="652.7" r="8.0" fill="#fde725"/><circle cx="1935.9" cy="647.8" r="8.0" fill="#fde725"/><circle cx="1950.3" cy="661.0" r="8.0" fill="#fde725"/><circle cx="1934.7" cy="668.6" r="8.0" fill="#fde725"/><circle cx="2000.3" cy="679.7" r="8.0" fill="#fde725"/><circle cx="1989.5" cy="713.8" r="8.0" fill="#3b528b"/><circle cx="2033.2" cy="715.4" r="8.0" fill="#3b528b"/><circle cx="2051.1" cy="719.6" r="8.0" fill="#3b528b"/><circle cx="2047.3" cy="732.4" r="8.0" fill="#3b528b"/><circle cx="2039.7" cy="746.6" r="8.0" fill="#3b528b"/><circle cx="2052.4" cy="755.6" r="8.0" fill="#3b528b"/><circle cx="2075.0" cy="760.8" r="8.0" fill="#3b528b"/><circle cx="2071.9" cy="744.8" r="8.0" fill="#3b528b"/><circle cx="2090.3" cy="747.3" r="8.0" fill="#3b528b"/><circle cx="2138.4" cy="755.4" r="8.0" fill="#3b528b"/><circle cx="2154.1" cy="741.4" r="8.0" fill="#3b528b"/><circle cx="2138.1" cy="731.4" r="8.0" fill="#3b528b"/><circle cx="2130.5" cy="712.3" r="8.0" fill="#3b528b"/><circle cx="2106.2" cy="714.5" r="8.0" fill="#3b528b"/><circle cx="2109.0" cy="699.5" r="8.0" fill="#3b528b"/><circle cx="2072.3" cy="689.1" r="8.0" fill="#3b528b"/><circle cx="2082.4" cy="712.3" r="8.0" fill="#3b528b"/><circle cx="2085.7" cy="730.7" r="8.0" fill="#3b528b"/></g>
<rect x="1723.99" y="58.9" width="453" height="403.1" fill="none" stroke="#000" stroke-width="2.13" stroke-linejoin="miter"/>
<rect x="1723.99" y="543" width="453" height="403" fill="none" stroke="#000" stroke-width="2.13" stroke-linejoin="miter"/>
<line x1="1714.66" y1="462" x2="1723.99" y2="462" stroke="#000" stroke-width="2.13"/><text x="1705.99" y="471.72" text-anchor="end" font-size="26.67">0</text>
<line x1="1714.66" y1="353.2" x2="1723.99" y2="353.2" stroke="#000" stroke-width="2.13"/><text x="1705.99" y="362.92" text-anchor="end" font-size="26.67">50</text>
<line x1="1714.66" y1="244.4" x2="1723.99" y2="244.4" stroke="#000" stroke-width="2.13"/><text x="1705.99" y="254.12" text-anchor="end" font-size="26.67">100</text>
<line x1="1714.66" y1="135.6" x2="1723.99" y2="135.6" stroke="#000" stroke-width="2.13"/><text x="1705.99" y="145.32" text-anchor="end" font-size="26.67">150</text>
<line x1="1714.66" y1="937.8" x2="1723.99" y2="937.8" stroke="#000" stroke-width="2.13"/><text x="1705.99" y="947.52" text-anchor="end" font-size="26.67">−15</text>
<line x1="1714.66" y1="874.47" x2="1723.99" y2="874.47" stroke="#000" stroke-width="2.13"/><text x="1705.99" y="884.19" text-anchor="end" font-size="26.67">−10</text>
<line x1="1714.66" y1="811.13" x2="1723.99" y2="811.13" stroke="#000" stroke-width="2.13"/><text x="1705.99" y="820.86" text-anchor="end" font-size="26.67">−5</text>
<line x1="1714.66" y1="747.8" x2="1723.99" y2="747.8" stroke="#000" stroke-width="2.13"/><text x="1705.99" y="757.52" text-anchor="end" font-size="26.67">0</text>
<line x1="1714.66" y1="684.46" x2="1723.99" y2="684.46" stroke="#000" stroke-width="2.13"/><text x="1705.99" y="694.18" text-anchor="end" font-size="26.67">5</text>
<line x1="1714.66" y1="621.13" x2="1723.99" y2="621.13" stroke="#000" stroke-width="2.13"/><text x="1705.99" y="630.85" text-anchor="end" font-size="26.67">10</text>
<line x1="1714.66" y1="557.79" x2="1723.99" y2="557.79" stroke="#000" stroke-width="2.13"/><text x="1705.99" y="567.51" text-anchor="end" font-size="26.67">15</text>
<line x1="1813.99" y1="946" x2="1813.99" y2="955.33" stroke="#000" stroke-width="2.13"/><text x="1813.99" y="985.67" text-anchor="middle" font-size="26.67">−10</text>
<line x1="1928.49" y1="946" x2="1928.49" y2="955.33" stroke="#000" stroke-width="2.13"/><text x="1928.49" y="985.67" text-anchor="middle" font-size="26.67">−5</text>
<line x1="2042.99" y1="946" x2="2042.99" y2="955.33" stroke="#000" stroke-width="2.13"/><text x="2042.99" y="985.67" text-anchor="middle" font-size="26.67">0</text>
<line x1="2157.49" y1="946" x2="2157.49" y2="955.33" stroke="#000" stroke-width="2.13"/><text x="2157.49" y="985.67" text-anchor="middle" font-size="26.67">5</text>
<text x="1950.49" y="42.9" text-anchor="middle" font-size="32.0">Ward's Linkge</text>
<text x="1950.49" y="527" text-anchor="middle" font-size="32.0">K = 5</text></svg></body></html>
